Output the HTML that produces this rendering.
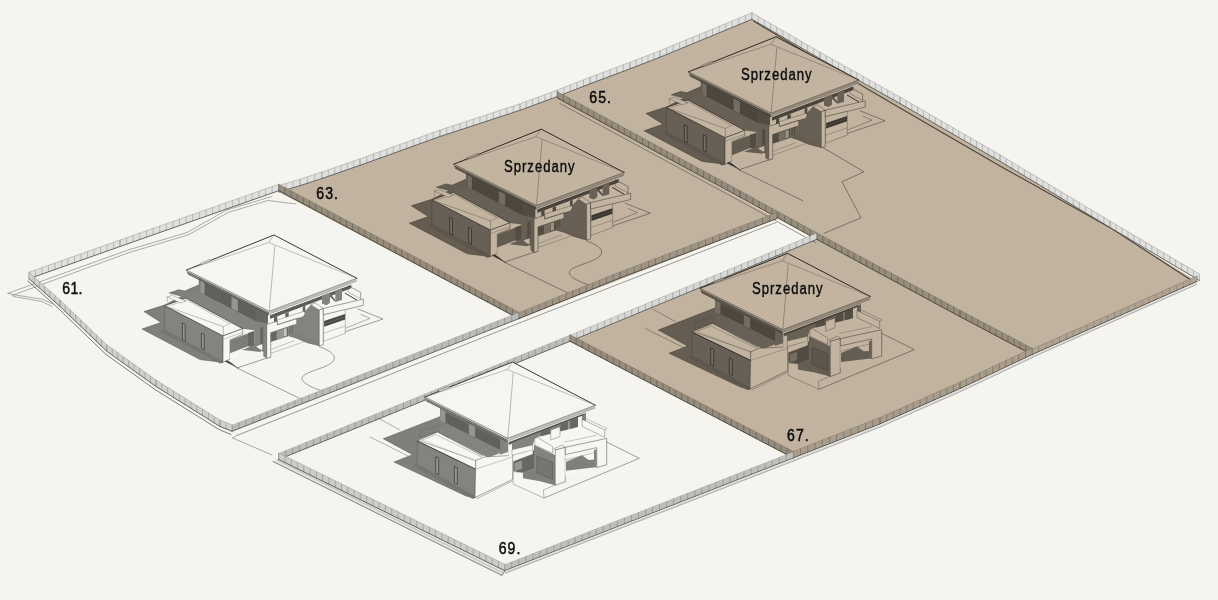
<!DOCTYPE html>
<html lang="pl"><head><meta charset="utf-8"><title>Plan osiedla</title>
<style>
html,body{margin:0;padding:0;background:#f5f4ef;}
body{width:1218px;height:600px;overflow:hidden;}
svg{display:block;}
text{font-family:"Liberation Sans",sans-serif;fill:#0c0c0c;}
</style></head><body>
<svg width="1218" height="600" viewBox="0 0 1218 600">
<rect width="1218" height="600" fill="#f5f4ef"/>
<polygon points="29.0,278.7 120.0,246.5 278.7,190.7 518.7,318.7 232.0,431.3 220.0,426.5 156.0,386.5 106.7,351.2 60.0,306.5" fill="#f5f4ef"/>
<polygon points="278.7,459.5 570.0,341.3 793.3,458.0 504.7,570.7" fill="#f5f4ef"/>
<polygon points="232.0,431.3 518.7,318.7 776.7,218.7 816.7,239.3 570.0,341.3 278.7,459.5 272.0,455.5 232.7,438.0" fill="#f5f4ef"/>
<polygon points="278.7,192.0 300.0,185.7 322.0,178.5 360.0,165.3 440.0,136.5 520.0,110.3 557.3,96.5 776.7,218.7 518.7,318.7" fill="#c1b39f"/>
<polygon points="557.3,96.5 590.0,83.8 630.0,68.8 660.0,57.2 752.0,19.3 820.0,58.7 900.0,103.5 1000.0,161.3 1110.0,227.5 1197.0,281.5 1032.0,354.7 960.0,316.7 816.7,239.3 740.0,197.3" fill="#c1b39f"/>
<polygon points="570.0,341.3 816.7,239.3 1032.0,354.7 960.0,388.7 880.0,424.0 793.3,458.0" fill="#c1b39f"/>
<polyline points="237.3,435.3 518.0,323.5 776.0,222.5" fill="none" stroke="#5a5a58" stroke-width="0.6" stroke-linejoin="round" stroke-linecap="round"/>
<polyline points="232.7,438.0 272.0,455.0" fill="none" stroke="#5a5a58" stroke-width="0.5" stroke-linejoin="round" stroke-linecap="round"/>
<polyline points="232.7,438.0 237.3,435.3" fill="none" stroke="#5a5a58" stroke-width="0.5" stroke-linejoin="round" stroke-linecap="round"/>
<polyline points="8.0,293.3 128.0,250.0 186.7,232.7 226.7,210.0 272.0,196.5" fill="none" stroke="#5f5f5d" stroke-width="0.5" stroke-linejoin="round" stroke-linecap="round"/>
<polyline points="12.0,295.5 129.0,252.6 188.0,235.0 228.0,212.5 268.0,200.5 296.0,204.0" fill="none" stroke="#5f5f5d" stroke-width="0.5" stroke-linejoin="round" stroke-linecap="round"/>
<polyline points="8.0,293.3 13.3,294.7 42.7,299.3 53.3,304.0" fill="none" stroke="#5f5f5d" stroke-width="0.5" stroke-linejoin="round" stroke-linecap="round"/>
<polyline points="13.3,296.5 42.0,301.5 52.0,306.5" fill="none" stroke="#5f5f5d" stroke-width="0.5" stroke-linejoin="round" stroke-linecap="round"/>
<polyline points="28.0,281.0 59.0,309.0 105.5,354.0 155.0,389.5 219.0,429.5 231.0,434.5" fill="none" stroke="#464644" stroke-width="0.7" stroke-linejoin="round" stroke-linecap="round"/>
<polygon points="278.7,459.5 504.7,570.7 502.0,575.5 273.0,461.5" fill="#e4e3df"/>
<polyline points="273.0,461.5 502.0,575.5 504.7,571.0" fill="none" stroke="#50504e" stroke-width="0.7" stroke-linejoin="round" stroke-linecap="round"/>
<polyline points="276.0,459.5 503.0,573.0" fill="none" stroke="#828280" stroke-width="0.4" stroke-linejoin="round" stroke-linecap="round"/>
<polyline points="753.5,21.0 830.0,67.0 900.0,108.0 1000.0,166.0 1112.0,228.7 1194.0,282.0" fill="none" stroke="#4c463d" stroke-width="1.1" stroke-linejoin="round" stroke-linecap="round"/>
<polyline points="560.0,103.5 740.0,201.0 816.0,243.0" fill="none" stroke="#575047" stroke-width="0.6" stroke-linejoin="round" stroke-linecap="round"/>
<polygon points="29.0,278.7 120.0,246.5 278.7,190.7 278.7,184.2 120.0,240.0 29.0,272.2" fill="#e0e0de"/>
<path d="M29.0 278.7v-6.5M35.5 276.4v-6.5M42.0 274.1v-6.5M48.5 271.8v-6.5M55.0 269.5v-6.5M61.5 267.2v-6.5M68.0 264.9v-6.5M74.5 262.6v-6.5M81.0 260.3v-6.5M87.5 258.0v-6.5M94.0 255.7v-6.5M100.5 253.4v-6.5M107.0 251.1v-6.5M113.5 248.8v-6.5M120.0 246.5v-6.5M120.0 246.5v-6.5M126.6 244.2v-6.5M133.2 241.8v-6.5M139.8 239.5v-6.5M146.4 237.2v-6.5M153.1 234.9v-6.5M159.7 232.6v-6.5M166.3 230.2v-6.5M172.9 227.9v-6.5M179.5 225.6v-6.5M186.1 223.2v-6.5M192.7 220.9v-6.5M199.3 218.6v-6.5M206.0 216.3v-6.5M212.6 213.9v-6.5M219.2 211.6v-6.5M225.8 209.3v-6.5M232.4 207.0v-6.5M239.0 204.6v-6.5M245.6 202.3v-6.5M252.2 200.0v-6.5M258.9 197.7v-6.5M265.5 195.3v-6.5M272.1 193.0v-6.5M278.7 190.7v-6.5" stroke="#8c8c8a" stroke-width="0.5" fill="none"/>
<polyline points="29.0,272.2 120.0,240.0 278.7,184.2" fill="none" stroke="#969694" stroke-width="0.5" stroke-linejoin="round" stroke-linecap="round"/>
<polyline points="29.0,278.7 120.0,246.5 278.7,190.7" fill="none" stroke="#464644" stroke-width="0.8" stroke-linejoin="round" stroke-linecap="round"/>
<polygon points="278.7,192.0 300.0,185.7 322.0,178.5 360.0,165.3 440.0,136.5 520.0,110.3 557.3,96.5 590.0,83.8 630.0,68.8 660.0,57.2 752.0,19.3 752.0,12.8 660.0,50.7 630.0,62.2 590.0,77.2 557.3,90.0 520.0,103.8 440.0,130.0 360.0,158.8 322.0,172.0 300.0,179.2 278.7,185.5" fill="#e0e0de"/>
<path d="M278.7 192.0v-6.5M285.8 189.9v-6.5M292.9 187.8v-6.5M300.0 185.7v-6.5M300.0 185.7v-6.5M307.3 183.3v-6.5M314.7 180.9v-6.5M322.0 178.5v-6.5M322.0 178.5v-6.5M328.3 176.3v-6.5M334.7 174.1v-6.5M341.0 171.9v-6.5M347.3 169.7v-6.5M353.7 167.5v-6.5M360.0 165.3v-6.5M360.0 165.3v-6.5M366.7 162.9v-6.5M373.3 160.5v-6.5M380.0 158.1v-6.5M386.7 155.7v-6.5M393.3 153.3v-6.5M400.0 150.9v-6.5M406.7 148.5v-6.5M413.3 146.1v-6.5M420.0 143.7v-6.5M426.7 141.3v-6.5M433.3 138.9v-6.5M440.0 136.5v-6.5M440.0 136.5v-6.5M446.7 134.3v-6.5M453.3 132.1v-6.5M460.0 129.9v-6.5M466.7 127.8v-6.5M473.3 125.6v-6.5M480.0 123.4v-6.5M486.7 121.2v-6.5M493.3 119.0v-6.5M500.0 116.8v-6.5M506.7 114.7v-6.5M513.3 112.5v-6.5M520.0 110.3v-6.5M520.0 110.3v-6.5M526.2 108.0v-6.5M532.4 105.7v-6.5M538.6 103.4v-6.5M544.9 101.1v-6.5M551.1 98.8v-6.5M557.3 96.5v-6.5M557.3 96.5v-6.5M563.8 94.0v-6.5M570.4 91.4v-6.5M576.9 88.8v-6.5M583.5 86.3v-6.5M590.0 83.8v-6.5M590.0 83.8v-6.5M596.7 81.2v-6.5M603.3 78.8v-6.5M610.0 76.2v-6.5M616.7 73.8v-6.5M623.3 71.2v-6.5M630.0 68.8v-6.5M630.0 68.8v-6.5M636.0 66.4v-6.5M642.0 64.1v-6.5M648.0 61.8v-6.5M654.0 59.5v-6.5M660.0 57.2v-6.5M660.0 57.2v-6.5M666.6 54.5v-6.5M673.1 51.8v-6.5M679.7 49.1v-6.5M686.3 46.4v-6.5M692.9 43.7v-6.5M699.4 41.0v-6.5M706.0 38.2v-6.5M712.6 35.5v-6.5M719.1 32.8v-6.5M725.7 30.1v-6.5M732.3 27.4v-6.5M738.9 24.7v-6.5M745.4 22.0v-6.5M752.0 19.3v-6.5" stroke="#8c8c8a" stroke-width="0.5" fill="none"/>
<polyline points="278.7,185.5 300.0,179.2 322.0,172.0 360.0,158.8 440.0,130.0 520.0,103.8 557.3,90.0 590.0,77.2 630.0,62.2 660.0,50.7 752.0,12.8" fill="none" stroke="#969694" stroke-width="0.5" stroke-linejoin="round" stroke-linecap="round"/>
<polyline points="278.7,192.0 300.0,185.7 322.0,178.5 360.0,165.3 440.0,136.5 520.0,110.3 557.3,96.5 590.0,83.8 630.0,68.8 660.0,57.2 752.0,19.3" fill="none" stroke="#464644" stroke-width="0.8" stroke-linejoin="round" stroke-linecap="round"/>
<polygon points="752.0,19.3 820.0,58.7 900.0,103.5 1000.0,161.3 1110.0,227.5 1199.5,280.5 1199.5,274.0 1110.0,221.0 1000.0,154.8 900.0,97.0 820.0,52.2 752.0,12.8" fill="#e0e0de"/>
<path d="M752.0 19.3v-6.5M758.2 22.9v-6.5M764.4 26.5v-6.5M770.5 30.0v-6.5M776.7 33.6v-6.5M782.9 37.2v-6.5M789.1 40.8v-6.5M795.3 44.4v-6.5M801.5 48.0v-6.5M807.6 51.5v-6.5M813.8 55.1v-6.5M820.0 58.7v-6.5M820.0 58.7v-6.5M826.2 62.1v-6.5M832.3 65.6v-6.5M838.5 69.0v-6.5M844.6 72.5v-6.5M850.8 75.9v-6.5M856.9 79.4v-6.5M863.1 82.8v-6.5M869.2 86.3v-6.5M875.4 89.7v-6.5M881.5 93.2v-6.5M887.7 96.6v-6.5M893.8 100.1v-6.5M900.0 103.5v-6.5M900.0 103.5v-6.5M905.9 106.9v-6.5M911.8 110.3v-6.5M917.6 113.7v-6.5M923.5 117.1v-6.5M929.4 120.5v-6.5M935.3 123.9v-6.5M941.2 127.3v-6.5M947.1 130.7v-6.5M952.9 134.1v-6.5M958.8 137.5v-6.5M964.7 140.9v-6.5M970.6 144.3v-6.5M976.5 147.7v-6.5M982.4 151.1v-6.5M988.2 154.5v-6.5M994.1 157.9v-6.5M1000.0 161.3v-6.5M1000.0 161.3v-6.5M1006.1 165.0v-6.5M1012.2 168.7v-6.5M1018.3 172.3v-6.5M1024.4 176.0v-6.5M1030.6 179.7v-6.5M1036.7 183.4v-6.5M1042.8 187.0v-6.5M1048.9 190.7v-6.5M1055.0 194.4v-6.5M1061.1 198.1v-6.5M1067.2 201.8v-6.5M1073.3 205.4v-6.5M1079.4 209.1v-6.5M1085.6 212.8v-6.5M1091.7 216.5v-6.5M1097.8 220.1v-6.5M1103.9 223.8v-6.5M1110.0 227.5v-6.5M1110.0 227.5v-6.5M1116.0 231.0v-6.5M1121.9 234.6v-6.5M1127.9 238.1v-6.5M1133.9 241.6v-6.5M1139.8 245.2v-6.5M1145.8 248.7v-6.5M1151.8 252.2v-6.5M1157.7 255.8v-6.5M1163.7 259.3v-6.5M1169.7 262.8v-6.5M1175.6 266.4v-6.5M1181.6 269.9v-6.5M1187.6 273.4v-6.5M1193.5 277.0v-6.5M1199.5 280.5v-6.5" stroke="#8c8c8a" stroke-width="0.5" fill="none"/>
<polyline points="752.0,12.8 820.0,52.2 900.0,97.0 1000.0,154.8 1110.0,221.0 1199.5,274.0" fill="none" stroke="#969694" stroke-width="0.5" stroke-linejoin="round" stroke-linecap="round"/>
<polyline points="752.0,19.3 820.0,58.7 900.0,103.5 1000.0,161.3 1110.0,227.5 1199.5,280.5" fill="none" stroke="#464644" stroke-width="0.8" stroke-linejoin="round" stroke-linecap="round"/>
<polyline points="323.6,339.0 383.0,319.0 358.0,309.0" fill="none" stroke="#464644" stroke-width="0.5" stroke-linejoin="round" stroke-linecap="round"/>
<polyline points="330.0,334.4 370.0,318.4 361.0,314.4" fill="none" stroke="#464644" stroke-width="0.4" stroke-linejoin="round" stroke-linecap="round"/>
<polyline points="237.0,368.0 301.0,399.0" fill="none" stroke="#464644" stroke-width="0.5" stroke-linejoin="round" stroke-linecap="round"/>
<polyline points="230.0,362.0 237.0,368.0 270.0,357.0" fill="none" stroke="#464644" stroke-width="0.5" stroke-linejoin="round" stroke-linecap="round"/>
<polyline points="271.3,349.3 294.0,340.7" fill="none" stroke="#787876" stroke-width="0.4" stroke-linejoin="round" stroke-linecap="round"/>
<polyline points="271.3,353.1 303.3,342.0" fill="none" stroke="#787876" stroke-width="0.4" stroke-linejoin="round" stroke-linecap="round"/>
<path d="M319.0 346.5 C 340.0 354.0 338.0 362.0 322.0 367.7 S 299.0 376.0 303.0 381.0 Q 307.0 386.0 322.0 391.0" fill="none" stroke="#464644" stroke-width="0.5" stroke-linejoin="round" stroke-linecap="round"/>
<polygon points="169.3,293.0 178.7,289.7 184.7,291.0 198.7,285.0 230.0,330.0 223.0,362.4 200.0,359.6 142.0,329.0 161.0,322.4 144.0,311.6 164.7,305.0 182.0,296.3" fill="#807f7b" stroke="#4b4b49" stroke-width="0.5" stroke-linejoin="round"/>
<polygon points="310.7,304.7 319.3,310.0 319.3,346.0 307.3,342.9 296.7,338.4 288.7,336.0 288.7,326.7 296.7,324.0 296.7,318.0 303.3,316.7 304.9,313.3 304.7,311.3" fill="#84837f"/>
<polygon points="288.7,336.0 296.7,333.3 308.7,338.7 319.3,342.7 319.3,346.0 307.3,342.9 296.7,338.4" fill="#807f7b"/>
<polygon points="198.7,278.3 267.0,315.5 267.0,332.0 242.7,328.7 186.0,298.1 198.7,293.7" fill="#84837f"/>
<polygon points="204.7,282.1 268.0,313.0 268.0,323.7 255.3,321.0 204.7,295.0" fill="#686764"/>
<polyline points="204.9,284.6 255.3,310.2" fill="none" stroke="#484846" stroke-width="0.5" stroke-linejoin="round" stroke-linecap="round"/>
<polyline points="204.9,286.9 255.3,312.5" fill="none" stroke="#484846" stroke-width="0.5" stroke-linejoin="round" stroke-linecap="round"/>
<polyline points="204.9,289.1 255.3,314.7" fill="none" stroke="#484846" stroke-width="0.5" stroke-linejoin="round" stroke-linecap="round"/>
<polyline points="204.9,291.4 255.3,317.0" fill="none" stroke="#484846" stroke-width="0.5" stroke-linejoin="round" stroke-linecap="round"/>
<polyline points="204.9,293.7 255.3,319.3" fill="none" stroke="#484846" stroke-width="0.5" stroke-linejoin="round" stroke-linecap="round"/>
<polygon points="231.3,295.9 238.0,299.4 238.0,311.9 231.3,308.7" fill="#969591" stroke="#555552" stroke-width="0.3" stroke-linejoin="round"/>
<polygon points="200.0,279.4 204.7,281.8 204.7,295.0 200.0,292.7" fill="#969591" stroke="#555552" stroke-width="0.3" stroke-linejoin="round"/>
<polygon points="164.4,306.0 223.0,335.0 223.0,362.4 164.4,331.0" fill="#84837f" stroke="#50504e" stroke-width="0.4" stroke-linejoin="round"/>
<polygon points="161.0,330.6 164.4,329.6 223.0,361.0 223.0,362.8 220.0,363.6 161.0,332.0" fill="#767572"/>
<polygon points="182.4,323.0 185.2,324.4 185.2,341.0 182.4,339.6" fill="#969591" stroke="#323230" stroke-width="0.7" stroke-linejoin="round"/>
<polygon points="201.4,333.0 204.2,334.4 204.2,350.0 201.4,348.6" fill="#969591" stroke="#323230" stroke-width="0.7" stroke-linejoin="round"/>
<polygon points="164.7,305.7 186.0,298.1 242.7,328.7 223.1,335.9" fill="#f7f6f2" stroke="#373735" stroke-width="0.7" stroke-linejoin="round"/>
<polyline points="170.0,305.6 186.5,300.0 229.0,323.3" fill="none" stroke="#787876" stroke-width="0.4" stroke-linejoin="round" stroke-linecap="round"/>
<polyline points="165.3,305.9 223.3,326.7 223.3,336.0" fill="none" stroke="#7d7d7a" stroke-width="0.5" stroke-linejoin="round" stroke-linecap="round"/>
<polyline points="223.3,326.7 231.0,323.0" fill="none" stroke="#7d7d7a" stroke-width="0.4" stroke-linejoin="round" stroke-linecap="round"/>
<polygon points="167.3,297.0 172.0,295.4 186.0,301.0 180.9,303.0" fill="#f7f6f2" stroke="#6e6e6c" stroke-width="0.4" stroke-linejoin="round"/>
<polyline points="167.3,297.0 167.3,301.7" fill="none" stroke="#6e6e6c" stroke-width="0.4" stroke-linejoin="round" stroke-linecap="round"/>
<polygon points="223.1,335.9 242.7,328.7 242.7,334.3 230.0,340.0 230.0,359.0 223.0,362.4" fill="#f7f6f2" stroke="#50504e" stroke-width="0.5" stroke-linejoin="round"/>
<polyline points="223.1,339.4 242.0,332.7" fill="none" stroke="#787876" stroke-width="0.4" stroke-linejoin="round" stroke-linecap="round"/>
<polygon points="230.0,340.0 254.4,331.0 254.4,344.0 230.0,353.6" fill="#84837f"/>
<polyline points="230.4,342.2 248.0,335.6" fill="none" stroke="#5f5f5c" stroke-width="0.4" stroke-linejoin="round" stroke-linecap="round"/>
<polyline points="230.4,344.4 248.0,337.8" fill="none" stroke="#5f5f5c" stroke-width="0.4" stroke-linejoin="round" stroke-linecap="round"/>
<polyline points="230.4,346.6 248.0,340.0" fill="none" stroke="#5f5f5c" stroke-width="0.4" stroke-linejoin="round" stroke-linecap="round"/>
<polyline points="230.4,348.8 248.0,342.2" fill="none" stroke="#5f5f5c" stroke-width="0.4" stroke-linejoin="round" stroke-linecap="round"/>
<polyline points="230.4,351.0 248.0,344.4" fill="none" stroke="#5f5f5c" stroke-width="0.4" stroke-linejoin="round" stroke-linecap="round"/>
<polygon points="230.0,353.6 254.4,344.0 260.0,347.0 230.0,359.0" fill="#f7f6f2"/>
<polygon points="248.0,333.0 254.4,331.0 254.4,344.4 262.0,348.4 262.0,351.0 248.0,346.0" fill="#686764"/>
<polygon points="254.4,329.6 267.2,325.2 267.2,354.4 254.4,345.2" fill="#84837f"/>
<polygon points="260.0,328.0 267.2,325.6 267.2,354.4 260.0,349.2" fill="#686764"/>
<polygon points="242.0,350.0 255.0,344.4 263.0,350.0 260.0,352.0" fill="#807f7b"/>
<polygon points="256.0,346.4 262.4,344.0 262.4,350.0 260.0,349.2" fill="#f7f6f2"/>
<polygon points="224.5,361.2 227.5,360.2 239.5,369.0" fill="#464644"/>
<polygon points="270.0,314.9 351.3,284.7 351.3,294.7 330.0,300.0 315.3,302.9 310.7,304.7 304.7,311.3 277.3,320.0 270.0,324.0" fill="#f7f6f2"/>
<polygon points="270.0,314.9 351.3,284.7 351.3,288.3 270.0,318.9" fill="#5c5c59"/>
<polygon points="274.0,317.3 277.3,316.1 277.3,323.5 274.0,324.7" fill="#62625f"/>
<polygon points="285.3,313.3 288.7,312.1 288.7,319.5 285.3,320.7" fill="#62625f"/>
<polygon points="302.7,306.7 305.3,305.5 305.3,313.7 302.7,314.9" fill="#62625f"/>
<polygon points="277.3,320.0 304.0,311.3 305.2,313.3 303.3,316.8 277.3,324.8" fill="#f7f6f2" stroke="#5a5a58" stroke-width="0.4" stroke-linejoin="round"/>
<polygon points="263.3,326.0 266.7,324.7 266.7,358.4 263.3,356.3" fill="#84837f"/>
<polygon points="266.7,324.7 277.3,321.1 277.3,324.8 296.7,318.4 296.7,324.0 270.7,332.7 270.7,357.1 266.7,358.4" fill="#f7f6f2" stroke="#464644" stroke-width="0.5" stroke-linejoin="round"/>
<polyline points="277.3,324.8 303.3,316.8" fill="none" stroke="#6e6e6c" stroke-width="0.4" stroke-linejoin="round" stroke-linecap="round"/>
<polygon points="270.7,332.7 288.7,326.7 288.7,336.0 270.7,342.0" fill="#686764"/>
<polygon points="276.7,331.2 283.3,328.9 283.3,337.3 276.7,339.7" fill="#969591"/>
<polygon points="283.6,329.1 286.7,328.0 286.7,335.7 283.6,336.8" fill="#c8c7c3"/>
<polyline points="290.0,326.0 290.0,333.3" fill="none" stroke="#464644" stroke-width="0.5" stroke-linejoin="round" stroke-linecap="round"/>
<polyline points="292.4,325.3 292.4,332.7" fill="none" stroke="#464644" stroke-width="0.5" stroke-linejoin="round" stroke-linecap="round"/>
<polygon points="315.3,302.9 351.3,294.0 363.3,299.1 323.3,308.4" fill="#f7f6f2"/>
<polygon points="322.0,294.4 330.0,292.0 330.0,302.7 326.7,305.3 322.0,303.7" fill="#84837f"/>
<polygon points="335.3,290.4 342.0,288.0 342.0,300.0 335.3,302.0" fill="#84837f"/>
<polygon points="330.0,293.3 335.3,300.0 335.3,302.0 330.0,296.7" fill="#686764"/>
<polygon points="310.7,304.7 315.3,302.9 323.3,308.4 319.3,310.0" fill="#f7f6f2" stroke="#464644" stroke-width="0.4" stroke-linejoin="round"/>
<polyline points="348.0,285.6 360.7,292.3 360.7,298.7" fill="none" stroke="#464644" stroke-width="0.5" stroke-linejoin="round" stroke-linecap="round"/>
<polyline points="348.0,285.6 348.0,292.0 360.7,298.7" fill="none" stroke="#5a5a58" stroke-width="0.4" stroke-linejoin="round" stroke-linecap="round"/>
<polyline points="345.3,293.3 356.7,300.0" fill="none" stroke="#282828" stroke-width="0.9" stroke-linejoin="round" stroke-linecap="round"/>
<polygon points="319.3,310.0 323.3,308.4 323.3,344.7 319.3,346.0" fill="#f7f6f2" stroke="#464644" stroke-width="0.5" stroke-linejoin="round"/>
<polygon points="323.3,308.4 363.3,299.1 363.3,305.3 323.3,314.9" fill="#f7f6f2" stroke="#464644" stroke-width="0.5" stroke-linejoin="round"/>
<polygon points="323.6,314.9 345.3,309.6 345.3,333.3 323.6,341.3" fill="#f7f6f2" stroke="#646462" stroke-width="0.4" stroke-linejoin="round"/>
<polygon points="324.1,321.1 345.1,314.1 345.1,319.5 324.1,326.7" fill="#484846"/>
<polyline points="324.1,324.0 345.1,316.9" fill="none" stroke="#969694" stroke-width="0.4" stroke-linejoin="round" stroke-linecap="round"/>
<polyline points="323.6,333.3 345.3,326.0" fill="none" stroke="#787876" stroke-width="0.4" stroke-linejoin="round" stroke-linecap="round"/>
<polygon points="187.3,273.0 269.2,314.2 269.2,315.6 188.1,274.6" fill="#585855"/>
<polygon points="269.2,314.2 356.5,281.2 356.0,282.4 269.2,315.6" fill="#f7f6f2"/>
<polygon points="186.5,270.0 269.2,311.2 269.2,314.2 187.3,273.0" fill="#70706d"/>
<polygon points="269.2,311.2 356.8,278.2 356.5,281.2 269.2,314.2" fill="#c0c0bd"/>
<polyline points="269.2,314.2 356.5,281.2" fill="none" stroke="#787876" stroke-width="0.4" stroke-linejoin="round" stroke-linecap="round"/>
<polygon points="186.5,270.0 274.0,235.0 356.8,278.2 269.2,311.2" fill="#f6f5f1"/>
<polyline points="187.1,270.8 269.2,312.1" fill="none" stroke="#fafaf8" stroke-width="0.8" stroke-linejoin="round" stroke-linecap="round"/>
<polyline points="186.5,270.0 269.2,311.2 356.8,278.2" fill="none" stroke="#4b4b49" stroke-width="0.5" stroke-linejoin="round" stroke-linecap="round"/>
<polyline points="186.5,270.0 274.0,235.0 356.8,278.2" fill="none" stroke="#2d2d2b" stroke-width="0.95" stroke-linejoin="round" stroke-linecap="round"/>
<polyline points="274.8,246.2 269.2,311.2" fill="none" stroke="#787875" stroke-width="0.5" stroke-linejoin="round" stroke-linecap="round"/>
<polyline points="186.5,270.0 268.8,242.5 356.8,278.2" fill="none" stroke="#787875" stroke-width="0.45" stroke-linejoin="round" stroke-linecap="round"/>
<polyline points="268.8,242.5 274.0,235.0" fill="none" stroke="#787875" stroke-width="0.45" stroke-linejoin="round" stroke-linecap="round"/>
<polygon points="200.0,263.4 210.0,259.4 211.0,260.8 201.0,264.8" fill="#e1e0dc" stroke="#5a5a58" stroke-width="0.4" stroke-linejoin="round"/>
<polyline points="590.9,233.2 650.3,213.2 625.3,203.2" fill="none" stroke="#37332d" stroke-width="0.5" stroke-linejoin="round" stroke-linecap="round"/>
<polyline points="597.3,228.6 637.3,212.6 628.3,208.6" fill="none" stroke="#37332d" stroke-width="0.4" stroke-linejoin="round" stroke-linecap="round"/>
<polyline points="504.3,262.2 568.3,293.2" fill="none" stroke="#37332d" stroke-width="0.5" stroke-linejoin="round" stroke-linecap="round"/>
<polyline points="497.3,256.2 504.3,262.2 537.3,251.2" fill="none" stroke="#37332d" stroke-width="0.5" stroke-linejoin="round" stroke-linecap="round"/>
<polyline points="538.6,243.5 561.3,234.9" fill="none" stroke="#5f584f" stroke-width="0.4" stroke-linejoin="round" stroke-linecap="round"/>
<polyline points="538.6,247.3 570.6,236.2" fill="none" stroke="#5f584f" stroke-width="0.4" stroke-linejoin="round" stroke-linecap="round"/>
<path d="M586.3 240.7 C 607.3 248.2 605.3 256.2 589.3 261.9 S 566.3 270.2 570.3 275.2 Q 574.3 280.2 589.3 285.2" fill="none" stroke="#37332d" stroke-width="0.5" stroke-linejoin="round" stroke-linecap="round"/>
<polygon points="436.6,187.2 446.0,183.9 452.0,185.2 466.0,179.2 497.3,224.2 490.3,256.6 467.3,253.8 409.3,223.2 428.3,216.6 411.3,205.8 432.0,199.2 449.3,190.5" fill="#655d52" stroke="#3b3731" stroke-width="0.5" stroke-linejoin="round"/>
<polygon points="578.0,198.9 586.6,204.2 586.6,240.2 574.6,237.1 564.0,232.6 556.0,230.2 556.0,220.9 564.0,218.2 564.0,212.2 570.6,210.9 572.2,207.5 572.0,205.5" fill="#686054"/>
<polygon points="556.0,230.2 564.0,227.5 576.0,232.9 586.6,236.9 586.6,240.2 574.6,237.1 564.0,232.6" fill="#655d52"/>
<polygon points="466.0,172.5 534.3,209.7 534.3,226.2 510.0,222.9 453.3,192.3 466.0,187.9" fill="#686054"/>
<polygon points="472.0,176.3 535.3,207.2 535.3,217.9 522.6,215.2 472.0,189.2" fill="#524c43"/>
<polyline points="472.2,178.8 522.6,204.4" fill="none" stroke="#39352f" stroke-width="0.5" stroke-linejoin="round" stroke-linecap="round"/>
<polyline points="472.2,181.1 522.6,206.7" fill="none" stroke="#39352f" stroke-width="0.5" stroke-linejoin="round" stroke-linecap="round"/>
<polyline points="472.2,183.3 522.6,208.9" fill="none" stroke="#39352f" stroke-width="0.5" stroke-linejoin="round" stroke-linecap="round"/>
<polyline points="472.2,185.6 522.6,211.2" fill="none" stroke="#39352f" stroke-width="0.5" stroke-linejoin="round" stroke-linecap="round"/>
<polyline points="472.2,187.9 522.6,213.5" fill="none" stroke="#39352f" stroke-width="0.5" stroke-linejoin="round" stroke-linecap="round"/>
<polygon points="498.6,190.1 505.3,193.6 505.3,206.1 498.6,202.9" fill="#766d60" stroke="#433e37" stroke-width="0.3" stroke-linejoin="round"/>
<polygon points="467.3,173.6 472.0,176.0 472.0,189.2 467.3,186.9" fill="#766d60" stroke="#433e37" stroke-width="0.3" stroke-linejoin="round"/>
<polygon points="431.7,200.2 490.3,229.2 490.3,256.6 431.7,225.2" fill="#686054" stroke="#3f3b34" stroke-width="0.4" stroke-linejoin="round"/>
<polygon points="428.3,224.8 431.7,223.8 490.3,255.2 490.3,257.0 487.3,257.8 428.3,226.2" fill="#5d564c"/>
<polygon points="449.7,217.2 452.5,218.6 452.5,235.2 449.7,233.8" fill="#766d60" stroke="#272520" stroke-width="0.7" stroke-linejoin="round"/>
<polygon points="468.7,227.2 471.5,228.6 471.5,244.2 468.7,242.8" fill="#766d60" stroke="#272520" stroke-width="0.7" stroke-linejoin="round"/>
<polygon points="432.0,199.9 453.3,192.3 510.0,222.9 490.4,230.1" fill="#c3b4a1" stroke="#2b2823" stroke-width="0.7" stroke-linejoin="round"/>
<polyline points="437.3,199.8 453.8,194.2 496.3,217.5" fill="none" stroke="#5f584f" stroke-width="0.4" stroke-linejoin="round" stroke-linecap="round"/>
<polyline points="432.6,200.1 490.6,220.9 490.6,230.2" fill="none" stroke="#625c51" stroke-width="0.5" stroke-linejoin="round" stroke-linecap="round"/>
<polyline points="490.6,220.9 498.3,217.2" fill="none" stroke="#625c51" stroke-width="0.4" stroke-linejoin="round" stroke-linecap="round"/>
<polygon points="434.6,191.2 439.3,189.6 453.3,195.2 448.2,197.2" fill="#c3b4a1" stroke="#575148" stroke-width="0.4" stroke-linejoin="round"/>
<polyline points="434.6,191.2 434.6,195.9" fill="none" stroke="#575148" stroke-width="0.4" stroke-linejoin="round" stroke-linecap="round"/>
<polygon points="490.4,230.1 510.0,222.9 510.0,228.5 497.3,234.2 497.3,253.2 490.3,256.6" fill="#c3b4a1" stroke="#3f3b34" stroke-width="0.5" stroke-linejoin="round"/>
<polyline points="490.4,233.6 509.3,226.9" fill="none" stroke="#5f584f" stroke-width="0.4" stroke-linejoin="round" stroke-linecap="round"/>
<polygon points="497.3,234.2 521.7,225.2 521.7,238.2 497.3,247.8" fill="#686054"/>
<polyline points="497.7,236.4 515.3,229.8" fill="none" stroke="#4b463d" stroke-width="0.4" stroke-linejoin="round" stroke-linecap="round"/>
<polyline points="497.7,238.6 515.3,232.0" fill="none" stroke="#4b463d" stroke-width="0.4" stroke-linejoin="round" stroke-linecap="round"/>
<polyline points="497.7,240.8 515.3,234.2" fill="none" stroke="#4b463d" stroke-width="0.4" stroke-linejoin="round" stroke-linecap="round"/>
<polyline points="497.7,243.0 515.3,236.4" fill="none" stroke="#4b463d" stroke-width="0.4" stroke-linejoin="round" stroke-linecap="round"/>
<polyline points="497.7,245.2 515.3,238.6" fill="none" stroke="#4b463d" stroke-width="0.4" stroke-linejoin="round" stroke-linecap="round"/>
<polygon points="497.3,247.8 521.7,238.2 527.3,241.2 497.3,253.2" fill="#c3b4a1"/>
<polygon points="515.3,227.2 521.7,225.2 521.7,238.6 529.3,242.6 529.3,245.2 515.3,240.2" fill="#524c43"/>
<polygon points="521.7,223.8 534.5,219.4 534.5,248.6 521.7,239.4" fill="#686054"/>
<polygon points="527.3,222.2 534.5,219.8 534.5,248.6 527.3,243.4" fill="#524c43"/>
<polygon points="509.3,244.2 522.3,238.6 530.3,244.2 527.3,246.2" fill="#655d52"/>
<polygon points="523.3,240.6 529.7,238.2 529.7,244.2 527.3,243.4" fill="#c3b4a1"/>
<polygon points="491.8,255.4 494.8,254.4 506.8,263.2" fill="#37332d"/>
<polygon points="537.3,209.1 618.6,178.9 618.6,188.9 597.3,194.2 582.6,197.1 578.0,198.9 572.0,205.5 544.6,214.2 537.3,218.2" fill="#c3b4a1"/>
<polygon points="537.3,209.1 618.6,178.9 618.6,182.5 537.3,213.1" fill="#48433b"/>
<polygon points="541.3,211.5 544.6,210.3 544.6,217.7 541.3,218.9" fill="#4d483f"/>
<polygon points="552.6,207.5 556.0,206.3 556.0,213.7 552.6,214.9" fill="#4d483f"/>
<polygon points="570.0,200.9 572.6,199.7 572.6,207.9 570.0,209.1" fill="#4d483f"/>
<polygon points="544.6,214.2 571.3,205.5 572.5,207.5 570.6,211.0 544.6,219.0" fill="#c3b4a1" stroke="#47423b" stroke-width="0.4" stroke-linejoin="round"/>
<polygon points="530.6,220.2 534.0,218.9 534.0,252.6 530.6,250.5" fill="#686054"/>
<polygon points="534.0,218.9 544.6,215.3 544.6,219.0 564.0,212.6 564.0,218.2 538.0,226.9 538.0,251.3 534.0,252.6" fill="#c3b4a1" stroke="#37332d" stroke-width="0.5" stroke-linejoin="round"/>
<polyline points="544.6,219.0 570.6,211.0" fill="none" stroke="#575148" stroke-width="0.4" stroke-linejoin="round" stroke-linecap="round"/>
<polygon points="538.0,226.9 556.0,220.9 556.0,230.2 538.0,236.2" fill="#524c43"/>
<polygon points="544.0,225.4 550.6,223.1 550.6,231.5 544.0,233.9" fill="#766d60"/>
<polygon points="550.9,223.3 554.0,222.2 554.0,229.9 550.9,231.0" fill="#9e9282"/>
<polyline points="557.3,220.2 557.3,227.5" fill="none" stroke="#37332d" stroke-width="0.5" stroke-linejoin="round" stroke-linecap="round"/>
<polyline points="559.7,219.5 559.7,226.9" fill="none" stroke="#37332d" stroke-width="0.5" stroke-linejoin="round" stroke-linecap="round"/>
<polygon points="582.6,197.1 618.6,188.2 630.6,193.3 590.6,202.6" fill="#c3b4a1"/>
<polygon points="589.3,188.6 597.3,186.2 597.3,196.9 594.0,199.5 589.3,197.9" fill="#686054"/>
<polygon points="602.6,184.6 609.3,182.2 609.3,194.2 602.6,196.2" fill="#686054"/>
<polygon points="597.3,187.5 602.6,194.2 602.6,196.2 597.3,190.9" fill="#524c43"/>
<polygon points="578.0,198.9 582.6,197.1 590.6,202.6 586.6,204.2" fill="#c3b4a1" stroke="#37332d" stroke-width="0.4" stroke-linejoin="round"/>
<polyline points="615.3,179.8 628.0,186.5 628.0,192.9" fill="none" stroke="#37332d" stroke-width="0.5" stroke-linejoin="round" stroke-linecap="round"/>
<polyline points="615.3,179.8 615.3,186.2 628.0,192.9" fill="none" stroke="#47423b" stroke-width="0.4" stroke-linejoin="round" stroke-linecap="round"/>
<polyline points="612.6,187.5 624.0,194.2" fill="none" stroke="#201d1b" stroke-width="0.9" stroke-linejoin="round" stroke-linecap="round"/>
<polygon points="586.6,204.2 590.6,202.6 590.6,238.9 586.6,240.2" fill="#c3b4a1" stroke="#37332d" stroke-width="0.5" stroke-linejoin="round"/>
<polygon points="590.6,202.6 630.6,193.3 630.6,199.5 590.6,209.1" fill="#c3b4a1" stroke="#37332d" stroke-width="0.5" stroke-linejoin="round"/>
<polygon points="590.9,209.1 612.6,203.8 612.6,227.5 590.9,235.5" fill="#c3b4a1" stroke="#4f4941" stroke-width="0.4" stroke-linejoin="round"/>
<polygon points="591.4,215.3 612.4,208.3 612.4,213.7 591.4,220.9" fill="#39352f"/>
<polyline points="591.4,218.2 612.4,211.1" fill="none" stroke="#766e62" stroke-width="0.4" stroke-linejoin="round" stroke-linecap="round"/>
<polyline points="590.9,227.5 612.6,220.2" fill="none" stroke="#5f584f" stroke-width="0.4" stroke-linejoin="round" stroke-linecap="round"/>
<polygon points="454.6,167.2 536.5,208.4 536.5,209.8 455.4,168.8" fill="#454139"/>
<polygon points="536.5,208.4 623.8,175.4 623.3,176.6 536.5,209.8" fill="#c3b4a1"/>
<polygon points="453.8,164.2 536.5,205.4 536.5,208.4 454.6,167.2" fill="#585249"/>
<polygon points="536.5,205.4 624.1,172.4 623.8,175.4 536.5,208.4" fill="#978d7e"/>
<polyline points="536.5,208.4 623.8,175.4" fill="none" stroke="#5f584f" stroke-width="0.4" stroke-linejoin="round" stroke-linecap="round"/>
<polygon points="453.8,164.2 541.3,129.2 624.1,172.4 536.5,205.4" fill="#c2b4a0"/>
<polyline points="454.4,165.0 536.5,206.3" fill="none" stroke="#c5b7a5" stroke-width="0.8" stroke-linejoin="round" stroke-linecap="round"/>
<polyline points="453.8,164.2 536.5,205.4 624.1,172.4" fill="none" stroke="#3b3731" stroke-width="0.5" stroke-linejoin="round" stroke-linecap="round"/>
<polyline points="453.8,164.2 541.3,129.2 624.1,172.4" fill="none" stroke="#23211d" stroke-width="0.95" stroke-linejoin="round" stroke-linecap="round"/>
<polyline points="542.0,140.4 536.5,205.4" fill="none" stroke="#5f584e" stroke-width="0.5" stroke-linejoin="round" stroke-linecap="round"/>
<polyline points="453.8,164.2 536.0,136.7 624.1,172.4" fill="none" stroke="#5f584e" stroke-width="0.45" stroke-linejoin="round" stroke-linecap="round"/>
<polyline points="536.0,136.7 541.3,129.2" fill="none" stroke="#5f584e" stroke-width="0.45" stroke-linejoin="round" stroke-linecap="round"/>
<polygon points="467.3,157.6 477.3,153.6 478.3,155.0 468.3,159.0" fill="#b1a492" stroke="#47423b" stroke-width="0.4" stroke-linejoin="round"/>
<polyline points="825.6,140.8 885.0,120.8 860.0,110.8" fill="none" stroke="#37332d" stroke-width="0.5" stroke-linejoin="round" stroke-linecap="round"/>
<polyline points="832.0,136.2 872.0,120.2 863.0,116.2" fill="none" stroke="#37332d" stroke-width="0.4" stroke-linejoin="round" stroke-linecap="round"/>
<polyline points="739.0,169.8 803.0,200.8" fill="none" stroke="#37332d" stroke-width="0.5" stroke-linejoin="round" stroke-linecap="round"/>
<polyline points="732.0,163.8 739.0,169.8 772.0,158.8" fill="none" stroke="#37332d" stroke-width="0.5" stroke-linejoin="round" stroke-linecap="round"/>
<polyline points="773.3,151.1 796.0,142.5" fill="none" stroke="#5f584f" stroke-width="0.4" stroke-linejoin="round" stroke-linecap="round"/>
<polyline points="773.3,154.9 805.3,143.8" fill="none" stroke="#5f584f" stroke-width="0.4" stroke-linejoin="round" stroke-linecap="round"/>
<polyline points="822.0,147.0 864.0,171.8 842.0,181.8 861.0,217.8 824.0,233.3" fill="none" stroke="#37332d" stroke-width="0.5" stroke-linejoin="round" stroke-linecap="round"/>
<polygon points="671.3,94.8 680.7,91.5 686.7,92.8 700.7,86.8 732.0,131.8 725.0,164.2 702.0,161.4 644.0,130.8 663.0,124.2 646.0,113.4 666.7,106.8 684.0,98.1" fill="#655d52" stroke="#3b3731" stroke-width="0.5" stroke-linejoin="round"/>
<polygon points="812.7,106.5 821.3,111.8 821.3,147.8 809.3,144.7 798.7,140.2 790.7,137.8 790.7,128.5 798.7,125.8 798.7,119.8 805.3,118.5 806.9,115.1 806.7,113.1" fill="#686054"/>
<polygon points="790.7,137.8 798.7,135.1 810.7,140.5 821.3,144.5 821.3,147.8 809.3,144.7 798.7,140.2" fill="#655d52"/>
<polygon points="700.7,80.1 769.0,117.3 769.0,133.8 744.7,130.5 688.0,99.9 700.7,95.5" fill="#686054"/>
<polygon points="706.7,83.9 770.0,114.8 770.0,125.5 757.3,122.8 706.7,96.8" fill="#524c43"/>
<polyline points="706.9,86.4 757.3,112.0" fill="none" stroke="#39352f" stroke-width="0.5" stroke-linejoin="round" stroke-linecap="round"/>
<polyline points="706.9,88.7 757.3,114.3" fill="none" stroke="#39352f" stroke-width="0.5" stroke-linejoin="round" stroke-linecap="round"/>
<polyline points="706.9,90.9 757.3,116.5" fill="none" stroke="#39352f" stroke-width="0.5" stroke-linejoin="round" stroke-linecap="round"/>
<polyline points="706.9,93.2 757.3,118.8" fill="none" stroke="#39352f" stroke-width="0.5" stroke-linejoin="round" stroke-linecap="round"/>
<polyline points="706.9,95.5 757.3,121.1" fill="none" stroke="#39352f" stroke-width="0.5" stroke-linejoin="round" stroke-linecap="round"/>
<polygon points="733.3,97.7 740.0,101.2 740.0,113.7 733.3,110.5" fill="#766d60" stroke="#433e37" stroke-width="0.3" stroke-linejoin="round"/>
<polygon points="702.0,81.2 706.7,83.6 706.7,96.8 702.0,94.5" fill="#766d60" stroke="#433e37" stroke-width="0.3" stroke-linejoin="round"/>
<polygon points="666.4,107.8 725.0,136.8 725.0,164.2 666.4,132.8" fill="#686054" stroke="#3f3b34" stroke-width="0.4" stroke-linejoin="round"/>
<polygon points="663.0,132.4 666.4,131.4 725.0,162.8 725.0,164.6 722.0,165.4 663.0,133.8" fill="#5d564c"/>
<polygon points="684.4,124.8 687.2,126.2 687.2,142.8 684.4,141.4" fill="#766d60" stroke="#272520" stroke-width="0.7" stroke-linejoin="round"/>
<polygon points="703.4,134.8 706.2,136.2 706.2,151.8 703.4,150.4" fill="#766d60" stroke="#272520" stroke-width="0.7" stroke-linejoin="round"/>
<polygon points="666.7,107.5 688.0,99.9 744.7,130.5 725.1,137.7" fill="#c3b4a1" stroke="#2b2823" stroke-width="0.7" stroke-linejoin="round"/>
<polyline points="672.0,107.4 688.5,101.8 731.0,125.1" fill="none" stroke="#5f584f" stroke-width="0.4" stroke-linejoin="round" stroke-linecap="round"/>
<polyline points="667.3,107.7 725.3,128.5 725.3,137.8" fill="none" stroke="#625c51" stroke-width="0.5" stroke-linejoin="round" stroke-linecap="round"/>
<polyline points="725.3,128.5 733.0,124.8" fill="none" stroke="#625c51" stroke-width="0.4" stroke-linejoin="round" stroke-linecap="round"/>
<polygon points="669.3,98.8 674.0,97.2 688.0,102.8 682.9,104.8" fill="#c3b4a1" stroke="#575148" stroke-width="0.4" stroke-linejoin="round"/>
<polyline points="669.3,98.8 669.3,103.5" fill="none" stroke="#575148" stroke-width="0.4" stroke-linejoin="round" stroke-linecap="round"/>
<polygon points="725.1,137.7 744.7,130.5 744.7,136.1 732.0,141.8 732.0,160.8 725.0,164.2" fill="#c3b4a1" stroke="#3f3b34" stroke-width="0.5" stroke-linejoin="round"/>
<polyline points="725.1,141.2 744.0,134.5" fill="none" stroke="#5f584f" stroke-width="0.4" stroke-linejoin="round" stroke-linecap="round"/>
<polygon points="732.0,141.8 756.4,132.8 756.4,145.8 732.0,155.4" fill="#686054"/>
<polyline points="732.4,144.0 750.0,137.4" fill="none" stroke="#4b463d" stroke-width="0.4" stroke-linejoin="round" stroke-linecap="round"/>
<polyline points="732.4,146.2 750.0,139.6" fill="none" stroke="#4b463d" stroke-width="0.4" stroke-linejoin="round" stroke-linecap="round"/>
<polyline points="732.4,148.4 750.0,141.8" fill="none" stroke="#4b463d" stroke-width="0.4" stroke-linejoin="round" stroke-linecap="round"/>
<polyline points="732.4,150.6 750.0,144.0" fill="none" stroke="#4b463d" stroke-width="0.4" stroke-linejoin="round" stroke-linecap="round"/>
<polyline points="732.4,152.8 750.0,146.2" fill="none" stroke="#4b463d" stroke-width="0.4" stroke-linejoin="round" stroke-linecap="round"/>
<polygon points="732.0,155.4 756.4,145.8 762.0,148.8 732.0,160.8" fill="#c3b4a1"/>
<polygon points="750.0,134.8 756.4,132.8 756.4,146.2 764.0,150.2 764.0,152.8 750.0,147.8" fill="#524c43"/>
<polygon points="756.4,131.4 769.2,127.0 769.2,156.2 756.4,147.0" fill="#686054"/>
<polygon points="762.0,129.8 769.2,127.4 769.2,156.2 762.0,151.0" fill="#524c43"/>
<polygon points="744.0,151.8 757.0,146.2 765.0,151.8 762.0,153.8" fill="#655d52"/>
<polygon points="758.0,148.2 764.4,145.8 764.4,151.8 762.0,151.0" fill="#c3b4a1"/>
<polygon points="726.5,163.0 729.5,162.0 741.5,170.8" fill="#37332d"/>
<polygon points="772.0,116.7 853.3,86.5 853.3,96.5 832.0,101.8 817.3,104.7 812.7,106.5 806.7,113.1 779.3,121.8 772.0,125.8" fill="#c3b4a1"/>
<polygon points="772.0,116.7 853.3,86.5 853.3,90.1 772.0,120.7" fill="#48433b"/>
<polygon points="776.0,119.1 779.3,117.9 779.3,125.3 776.0,126.5" fill="#4d483f"/>
<polygon points="787.3,115.1 790.7,113.9 790.7,121.3 787.3,122.5" fill="#4d483f"/>
<polygon points="804.7,108.5 807.3,107.3 807.3,115.5 804.7,116.7" fill="#4d483f"/>
<polygon points="779.3,121.8 806.0,113.1 807.2,115.1 805.3,118.6 779.3,126.6" fill="#c3b4a1" stroke="#47423b" stroke-width="0.4" stroke-linejoin="round"/>
<polygon points="765.3,127.8 768.7,126.5 768.7,160.2 765.3,158.1" fill="#686054"/>
<polygon points="768.7,126.5 779.3,122.9 779.3,126.6 798.7,120.2 798.7,125.8 772.7,134.5 772.7,158.9 768.7,160.2" fill="#c3b4a1" stroke="#37332d" stroke-width="0.5" stroke-linejoin="round"/>
<polyline points="779.3,126.6 805.3,118.6" fill="none" stroke="#575148" stroke-width="0.4" stroke-linejoin="round" stroke-linecap="round"/>
<polygon points="772.7,134.5 790.7,128.5 790.7,137.8 772.7,143.8" fill="#524c43"/>
<polygon points="778.7,133.0 785.3,130.7 785.3,139.1 778.7,141.5" fill="#766d60"/>
<polygon points="785.6,130.9 788.7,129.8 788.7,137.5 785.6,138.6" fill="#9e9282"/>
<polyline points="792.0,127.8 792.0,135.1" fill="none" stroke="#37332d" stroke-width="0.5" stroke-linejoin="round" stroke-linecap="round"/>
<polyline points="794.4,127.1 794.4,134.5" fill="none" stroke="#37332d" stroke-width="0.5" stroke-linejoin="round" stroke-linecap="round"/>
<polygon points="817.3,104.7 853.3,95.8 865.3,100.9 825.3,110.2" fill="#c3b4a1"/>
<polygon points="824.0,96.2 832.0,93.8 832.0,104.5 828.7,107.1 824.0,105.5" fill="#686054"/>
<polygon points="837.3,92.2 844.0,89.8 844.0,101.8 837.3,103.8" fill="#686054"/>
<polygon points="832.0,95.1 837.3,101.8 837.3,103.8 832.0,98.5" fill="#524c43"/>
<polygon points="812.7,106.5 817.3,104.7 825.3,110.2 821.3,111.8" fill="#c3b4a1" stroke="#37332d" stroke-width="0.4" stroke-linejoin="round"/>
<polyline points="850.0,87.4 862.7,94.1 862.7,100.5" fill="none" stroke="#37332d" stroke-width="0.5" stroke-linejoin="round" stroke-linecap="round"/>
<polyline points="850.0,87.4 850.0,93.8 862.7,100.5" fill="none" stroke="#47423b" stroke-width="0.4" stroke-linejoin="round" stroke-linecap="round"/>
<polyline points="847.3,95.1 858.7,101.8" fill="none" stroke="#201d1b" stroke-width="0.9" stroke-linejoin="round" stroke-linecap="round"/>
<polygon points="821.3,111.8 825.3,110.2 825.3,146.5 821.3,147.8" fill="#c3b4a1" stroke="#37332d" stroke-width="0.5" stroke-linejoin="round"/>
<polygon points="825.3,110.2 865.3,100.9 865.3,107.1 825.3,116.7" fill="#c3b4a1" stroke="#37332d" stroke-width="0.5" stroke-linejoin="round"/>
<polygon points="825.6,116.7 847.3,111.4 847.3,135.1 825.6,143.1" fill="#c3b4a1" stroke="#4f4941" stroke-width="0.4" stroke-linejoin="round"/>
<polygon points="826.1,122.9 847.1,115.9 847.1,121.3 826.1,128.5" fill="#39352f"/>
<polyline points="826.1,125.8 847.1,118.7" fill="none" stroke="#766e62" stroke-width="0.4" stroke-linejoin="round" stroke-linecap="round"/>
<polyline points="825.6,135.1 847.3,127.8" fill="none" stroke="#5f584f" stroke-width="0.4" stroke-linejoin="round" stroke-linecap="round"/>
<polygon points="689.3,74.8 771.2,116.1 771.2,117.4 690.1,76.4" fill="#454139"/>
<polygon points="771.2,116.1 858.5,83.0 858.0,84.2 771.2,117.4" fill="#c3b4a1"/>
<polygon points="688.5,71.8 771.2,113.1 771.2,116.1 689.3,74.8" fill="#585249"/>
<polygon points="771.2,113.1 858.8,80.0 858.5,83.0 771.2,116.1" fill="#978d7e"/>
<polyline points="771.2,116.1 858.5,83.0" fill="none" stroke="#5f584f" stroke-width="0.4" stroke-linejoin="round" stroke-linecap="round"/>
<polygon points="688.5,71.8 776.0,36.8 858.8,80.0 771.2,113.1" fill="#c2b4a0"/>
<polyline points="689.1,72.6 771.2,113.9" fill="none" stroke="#c5b7a5" stroke-width="0.8" stroke-linejoin="round" stroke-linecap="round"/>
<polyline points="688.5,71.8 771.2,113.1 858.8,80.0" fill="none" stroke="#3b3731" stroke-width="0.5" stroke-linejoin="round" stroke-linecap="round"/>
<polyline points="688.5,71.8 776.0,36.8 858.8,80.0" fill="none" stroke="#23211d" stroke-width="0.95" stroke-linejoin="round" stroke-linecap="round"/>
<polyline points="776.8,48.1 771.2,113.1" fill="none" stroke="#5f584e" stroke-width="0.5" stroke-linejoin="round" stroke-linecap="round"/>
<polyline points="688.5,71.8 770.8,44.3 858.8,80.0" fill="none" stroke="#5f584e" stroke-width="0.45" stroke-linejoin="round" stroke-linecap="round"/>
<polyline points="770.8,44.3 776.0,36.8" fill="none" stroke="#5f584e" stroke-width="0.45" stroke-linejoin="round" stroke-linecap="round"/>
<polygon points="702.0,65.2 712.0,61.2 713.0,62.6 703.0,66.6" fill="#b1a492" stroke="#47423b" stroke-width="0.4" stroke-linejoin="round"/>
<polygon points="278.7,190.7 518.7,318.7 518.7,312.2 278.7,184.2" fill="#978d7d"/>
<path d="M278.7 190.7v-6.5M284.9 194.0v-6.5M291.0 197.3v-6.5M297.2 200.5v-6.5M303.3 203.8v-6.5M309.5 207.1v-6.5M315.6 210.4v-6.5M321.8 213.7v-6.5M327.9 217.0v-6.5M334.1 220.2v-6.5M340.2 223.5v-6.5M346.4 226.8v-6.5M352.5 230.1v-6.5M358.7 233.4v-6.5M364.9 236.6v-6.5M371.0 239.9v-6.5M377.2 243.2v-6.5M383.3 246.5v-6.5M389.5 249.8v-6.5M395.6 253.1v-6.5M401.8 256.3v-6.5M407.9 259.6v-6.5M414.1 262.9v-6.5M420.2 266.2v-6.5M426.4 269.5v-6.5M432.5 272.8v-6.5M438.7 276.0v-6.5M444.9 279.3v-6.5M451.0 282.6v-6.5M457.2 285.9v-6.5M463.3 289.2v-6.5M469.5 292.4v-6.5M475.6 295.7v-6.5M481.8 299.0v-6.5M487.9 302.3v-6.5M494.1 305.6v-6.5M500.2 308.9v-6.5M506.4 312.1v-6.5M512.5 315.4v-6.5M518.7 318.7v-6.5" stroke="#534d44" stroke-width="0.5" fill="none"/>
<polyline points="278.7,184.2 518.7,312.2" fill="none" stroke="#766e62" stroke-width="0.5" stroke-linejoin="round" stroke-linecap="round"/>
<polyline points="278.7,190.7 518.7,318.7" fill="none" stroke="#37332d" stroke-width="0.8" stroke-linejoin="round" stroke-linecap="round"/>
<polygon points="557.3,98.0 740.0,197.3 816.7,239.3 960.0,316.7 1032.0,354.7 1032.0,348.2 960.0,310.2 816.7,232.8 740.0,190.8 557.3,91.5" fill="#978d7d"/>
<path d="M557.3 98.0v-6.5M563.4 101.3v-6.5M569.5 104.6v-6.5M575.6 107.9v-6.5M581.7 111.2v-6.5M587.8 114.5v-6.5M593.8 117.9v-6.5M599.9 121.2v-6.5M606.0 124.5v-6.5M612.1 127.8v-6.5M618.2 131.1v-6.5M624.3 134.4v-6.5M630.4 137.7v-6.5M636.5 141.0v-6.5M642.6 144.3v-6.5M648.6 147.7v-6.5M654.7 151.0v-6.5M660.8 154.3v-6.5M666.9 157.6v-6.5M673.0 160.9v-6.5M679.1 164.2v-6.5M685.2 167.5v-6.5M691.3 170.8v-6.5M697.4 174.1v-6.5M703.5 177.4v-6.5M709.5 180.8v-6.5M715.6 184.1v-6.5M721.7 187.4v-6.5M727.8 190.7v-6.5M733.9 194.0v-6.5M740.0 197.3v-6.5M740.0 197.3v-6.5M746.4 200.8v-6.5M752.8 204.3v-6.5M759.2 207.8v-6.5M765.6 211.3v-6.5M772.0 214.8v-6.5M778.4 218.3v-6.5M784.7 221.8v-6.5M791.1 225.3v-6.5M797.5 228.8v-6.5M803.9 232.3v-6.5M810.3 235.8v-6.5M816.7 239.3v-6.5M816.7 239.3v-6.5M822.9 242.7v-6.5M829.2 246.0v-6.5M835.4 249.4v-6.5M841.6 252.8v-6.5M847.9 256.1v-6.5M854.1 259.5v-6.5M860.3 262.9v-6.5M866.5 266.2v-6.5M872.8 269.6v-6.5M879.0 273.0v-6.5M885.2 276.3v-6.5M891.5 279.7v-6.5M897.7 283.0v-6.5M903.9 286.4v-6.5M910.2 289.8v-6.5M916.4 293.1v-6.5M922.6 296.5v-6.5M928.8 299.9v-6.5M935.1 303.2v-6.5M941.3 306.6v-6.5M947.5 310.0v-6.5M953.8 313.3v-6.5M960.0 316.7v-6.5M960.0 316.7v-6.5M966.0 319.9v-6.5M972.0 323.0v-6.5M978.0 326.2v-6.5M984.0 329.4v-6.5M990.0 332.5v-6.5M996.0 335.7v-6.5M1002.0 338.9v-6.5M1008.0 342.0v-6.5M1014.0 345.2v-6.5M1020.0 348.4v-6.5M1026.0 351.5v-6.5M1032.0 354.7v-6.5" stroke="#534d44" stroke-width="0.5" fill="none"/>
<polyline points="557.3,91.5 740.0,190.8 816.7,232.8 960.0,310.2 1032.0,348.2" fill="none" stroke="#766e62" stroke-width="0.5" stroke-linejoin="round" stroke-linecap="round"/>
<polyline points="557.3,98.0 740.0,197.3 816.7,239.3 960.0,316.7 1032.0,354.7" fill="none" stroke="#37332d" stroke-width="0.8" stroke-linejoin="round" stroke-linecap="round"/>
<polygon points="518.7,318.7 620.0,278.0 776.7,218.7 776.7,212.7 620.0,272.0 518.7,312.7" fill="#a59a8a"/>
<path d="M518.7 318.7v-6.0M525.5 316.0v-6.0M532.2 313.3v-6.0M539.0 310.6v-6.0M545.7 307.8v-6.0M552.5 305.1v-6.0M559.2 302.4v-6.0M566.0 299.7v-6.0M572.7 297.0v-6.0M579.5 294.3v-6.0M586.2 291.6v-6.0M593.0 288.9v-6.0M599.7 286.1v-6.0M606.5 283.4v-6.0M613.2 280.7v-6.0M620.0 278.0v-6.0M620.0 278.0v-6.0M627.1 275.3v-6.0M634.2 272.6v-6.0M641.4 269.9v-6.0M648.5 267.2v-6.0M655.6 264.5v-6.0M662.7 261.8v-6.0M669.9 259.1v-6.0M677.0 256.4v-6.0M684.1 253.7v-6.0M691.2 251.0v-6.0M698.4 248.3v-6.0M705.5 245.7v-6.0M712.6 243.0v-6.0M719.7 240.3v-6.0M726.8 237.6v-6.0M734.0 234.9v-6.0M741.1 232.2v-6.0M748.2 229.5v-6.0M755.3 226.8v-6.0M762.5 224.1v-6.0M769.6 221.4v-6.0M776.7 218.7v-6.0" stroke="#585249" stroke-width="0.5" fill="none"/>
<polyline points="518.7,316.7 620.0,276.0 776.7,216.7" fill="none" stroke="#8c8274" stroke-width="0.35" stroke-linejoin="round" stroke-linecap="round"/>
<polyline points="518.7,314.7 620.0,274.0 776.7,214.7" fill="none" stroke="#8c8274" stroke-width="0.35" stroke-linejoin="round" stroke-linecap="round"/>
<polyline points="518.7,312.7 620.0,272.0 776.7,212.7" fill="none" stroke="#766e62" stroke-width="0.5" stroke-linejoin="round" stroke-linecap="round"/>
<polyline points="518.7,318.7 620.0,278.0 776.7,218.7" fill="none" stroke="#37332d" stroke-width="0.8" stroke-linejoin="round" stroke-linecap="round"/>
<polygon points="232.0,431.3 518.7,318.7 518.7,312.7 232.0,425.3" fill="#c0c0bd"/>
<path d="M232.0 431.3v-6.0M239.0 428.6v-6.0M246.0 425.8v-6.0M253.0 423.1v-6.0M260.0 420.3v-6.0M267.0 417.6v-6.0M274.0 414.8v-6.0M280.9 412.1v-6.0M287.9 409.3v-6.0M294.9 406.6v-6.0M301.9 403.8v-6.0M308.9 401.1v-6.0M315.9 398.3v-6.0M322.9 395.6v-6.0M329.9 392.9v-6.0M336.9 390.1v-6.0M343.9 387.4v-6.0M350.9 384.6v-6.0M357.9 381.9v-6.0M364.9 379.1v-6.0M371.9 376.4v-6.0M378.8 373.6v-6.0M385.8 370.9v-6.0M392.8 368.1v-6.0M399.8 365.4v-6.0M406.8 362.6v-6.0M413.8 359.9v-6.0M420.8 357.1v-6.0M427.8 354.4v-6.0M434.8 351.7v-6.0M441.8 348.9v-6.0M448.8 346.2v-6.0M455.8 343.4v-6.0M462.8 340.7v-6.0M469.8 337.9v-6.0M476.7 335.2v-6.0M483.7 332.4v-6.0M490.7 329.7v-6.0M497.7 326.9v-6.0M504.7 324.2v-6.0M511.7 321.4v-6.0M518.7 318.7v-6.0" stroke="#70706e" stroke-width="0.5" fill="none"/>
<polyline points="232.0,429.3 518.7,316.7" fill="none" stroke="#a5a5a3" stroke-width="0.35" stroke-linejoin="round" stroke-linecap="round"/>
<polyline points="232.0,427.3 518.7,314.7" fill="none" stroke="#a5a5a3" stroke-width="0.35" stroke-linejoin="round" stroke-linecap="round"/>
<polyline points="232.0,425.3 518.7,312.7" fill="none" stroke="#969694" stroke-width="0.5" stroke-linejoin="round" stroke-linecap="round"/>
<polyline points="232.0,431.3 518.7,318.7" fill="none" stroke="#464644" stroke-width="0.8" stroke-linejoin="round" stroke-linecap="round"/>
<polygon points="29.0,278.7 60.0,306.5 106.7,351.2 156.0,386.5 220.0,426.5 232.0,431.3 232.0,424.8 220.0,420.0 156.0,380.0 106.7,344.7 60.0,300.0 29.0,272.2" fill="#d0d0cd"/>
<path d="M29.0 278.7v-6.5M34.2 283.3v-6.5M39.3 288.0v-6.5M44.5 292.6v-6.5M49.7 297.2v-6.5M54.8 301.9v-6.5M60.0 306.5v-6.5M60.0 306.5v-6.5M65.2 311.5v-6.5M70.4 316.4v-6.5M75.6 321.4v-6.5M80.8 326.4v-6.5M85.9 331.3v-6.5M91.1 336.3v-6.5M96.3 341.3v-6.5M101.5 346.2v-6.5M106.7 351.2v-6.5M106.7 351.2v-6.5M112.2 355.1v-6.5M117.7 359.0v-6.5M123.1 363.0v-6.5M128.6 366.9v-6.5M134.1 370.8v-6.5M139.6 374.7v-6.5M145.0 378.7v-6.5M150.5 382.6v-6.5M156.0 386.5v-6.5M156.0 386.5v-6.5M161.8 390.1v-6.5M167.6 393.8v-6.5M173.5 397.4v-6.5M179.3 401.0v-6.5M185.1 404.7v-6.5M190.9 408.3v-6.5M196.7 412.0v-6.5M202.5 415.6v-6.5M208.4 419.2v-6.5M214.2 422.9v-6.5M220.0 426.5v-6.5M220.0 426.5v-6.5M226.0 428.9v-6.5M232.0 431.3v-6.5" stroke="#828280" stroke-width="0.5" fill="none"/>
<polyline points="29.0,272.2 60.0,300.0 106.7,344.7 156.0,380.0 220.0,420.0 232.0,424.8" fill="none" stroke="#969694" stroke-width="0.5" stroke-linejoin="round" stroke-linecap="round"/>
<polyline points="29.0,278.7 60.0,306.5 106.7,351.2 156.0,386.5 220.0,426.5 232.0,431.3" fill="none" stroke="#464644" stroke-width="0.8" stroke-linejoin="round" stroke-linecap="round"/>
<polygon points="570.0,341.3 816.7,239.3 816.7,233.3 570.0,335.3" fill="#dededc"/>
<path d="M570.0 341.3v-6.0M576.9 338.5v-6.0M583.7 335.6v-6.0M590.6 332.8v-6.0M597.4 330.0v-6.0M604.3 327.1v-6.0M611.1 324.3v-6.0M618.0 321.5v-6.0M624.8 318.6v-6.0M631.7 315.8v-6.0M638.5 313.0v-6.0M645.4 310.1v-6.0M652.2 307.3v-6.0M659.1 304.5v-6.0M665.9 301.6v-6.0M672.8 298.8v-6.0M679.6 296.0v-6.0M686.5 293.1v-6.0M693.4 290.3v-6.0M700.2 287.5v-6.0M707.1 284.6v-6.0M713.9 281.8v-6.0M720.8 279.0v-6.0M727.6 276.1v-6.0M734.5 273.3v-6.0M741.3 270.5v-6.0M748.2 267.6v-6.0M755.0 264.8v-6.0M761.9 262.0v-6.0M768.7 259.1v-6.0M775.6 256.3v-6.0M782.4 253.5v-6.0M789.3 250.6v-6.0M796.1 247.8v-6.0M803.0 245.0v-6.0M809.8 242.1v-6.0M816.7 239.3v-6.0" stroke="#70706e" stroke-width="0.5" fill="none"/>
<polyline points="570.0,339.3 816.7,237.3" fill="none" stroke="#b9b9b7" stroke-width="0.35" stroke-linejoin="round" stroke-linecap="round"/>
<polyline points="570.0,337.3 816.7,235.3" fill="none" stroke="#b9b9b7" stroke-width="0.35" stroke-linejoin="round" stroke-linecap="round"/>
<polyline points="570.0,335.3 816.7,233.3" fill="none" stroke="#969694" stroke-width="0.5" stroke-linejoin="round" stroke-linecap="round"/>
<polyline points="570.0,341.3 816.7,239.3" fill="none" stroke="#464644" stroke-width="0.8" stroke-linejoin="round" stroke-linecap="round"/>
<polygon points="278.7,459.5 570.0,341.3 570.0,335.3 278.7,453.5" fill="#c2c2bf"/>
<path d="M278.7 459.5v-6.0M285.6 456.7v-6.0M292.6 453.9v-6.0M299.5 451.1v-6.0M306.4 448.2v-6.0M313.4 445.4v-6.0M320.3 442.6v-6.0M327.2 439.8v-6.0M334.2 437.0v-6.0M341.1 434.2v-6.0M348.1 431.4v-6.0M355.0 428.5v-6.0M361.9 425.7v-6.0M368.9 422.9v-6.0M375.8 420.1v-6.0M382.7 417.3v-6.0M389.7 414.5v-6.0M396.6 411.7v-6.0M403.5 408.8v-6.0M410.5 406.0v-6.0M417.4 403.2v-6.0M424.4 400.4v-6.0M431.3 397.6v-6.0M438.2 394.8v-6.0M445.2 392.0v-6.0M452.1 389.1v-6.0M459.0 386.3v-6.0M466.0 383.5v-6.0M472.9 380.7v-6.0M479.8 377.9v-6.0M486.8 375.1v-6.0M493.7 372.3v-6.0M500.6 369.4v-6.0M507.6 366.6v-6.0M514.5 363.8v-6.0M521.5 361.0v-6.0M528.4 358.2v-6.0M535.3 355.4v-6.0M542.3 352.6v-6.0M549.2 349.7v-6.0M556.1 346.9v-6.0M563.1 344.1v-6.0M570.0 341.3v-6.0" stroke="#70706e" stroke-width="0.5" fill="none"/>
<polyline points="278.7,457.5 570.0,339.3" fill="none" stroke="#a7a7a4" stroke-width="0.35" stroke-linejoin="round" stroke-linecap="round"/>
<polyline points="278.7,455.5 570.0,337.3" fill="none" stroke="#a7a7a4" stroke-width="0.35" stroke-linejoin="round" stroke-linecap="round"/>
<polyline points="278.7,453.5 570.0,335.3" fill="none" stroke="#969694" stroke-width="0.5" stroke-linejoin="round" stroke-linecap="round"/>
<polyline points="278.7,459.5 570.0,341.3" fill="none" stroke="#464644" stroke-width="0.8" stroke-linejoin="round" stroke-linecap="round"/>
<polyline points="544.0,498.0 639.3,458.3 606.0,441.7" fill="none" stroke="#464644" stroke-width="0.5" stroke-linejoin="round" stroke-linecap="round"/>
<polyline points="370.0,437.0 410.0,457.0" fill="none" stroke="#464644" stroke-width="0.4" stroke-linejoin="round" stroke-linecap="round"/>
<polyline points="378.0,418.0 400.0,430.0" fill="none" stroke="#464644" stroke-width="0.4" stroke-linejoin="round" stroke-linecap="round"/>
<polygon points="383.3,438.7 440.0,416.7 449.3,440.0 475.0,498.0 466.0,496.0 394.0,462.0 412.7,454.7" fill="#807f7b" stroke="#4b4b49" stroke-width="0.5" stroke-linejoin="round"/>
<polygon points="440.0,408.0 508.0,441.5 508.0,452.0 489.3,458.3 437.3,432.0 440.0,430.7" fill="#84837f"/>
<polygon points="445.3,411.7 500.0,438.7 500.0,450.0 445.3,422.7" fill="#686764"/>
<polyline points="445.6,414.3 500.0,441.2" fill="none" stroke="#484846" stroke-width="0.5" stroke-linejoin="round" stroke-linecap="round"/>
<polyline points="445.6,416.5 500.0,443.5" fill="none" stroke="#484846" stroke-width="0.5" stroke-linejoin="round" stroke-linecap="round"/>
<polyline points="445.6,418.8 500.0,445.7" fill="none" stroke="#484846" stroke-width="0.5" stroke-linejoin="round" stroke-linecap="round"/>
<polyline points="445.6,421.1 500.0,448.0" fill="none" stroke="#484846" stroke-width="0.5" stroke-linejoin="round" stroke-linecap="round"/>
<polygon points="468.7,423.3 475.3,426.4 475.3,438.0 468.7,434.9" fill="#969591" stroke="#555552" stroke-width="0.3" stroke-linejoin="round"/>
<polygon points="440.3,408.7 445.3,411.3 445.3,422.9 440.3,420.3" fill="#969591"/>
<polyline points="420.0,431.3 450.7,421.3 450.7,427.3" fill="none" stroke="#5f5f5d" stroke-width="0.4" stroke-linejoin="round" stroke-linecap="round"/>
<polyline points="420.0,431.3 420.0,437.3" fill="none" stroke="#5f5f5d" stroke-width="0.4" stroke-linejoin="round" stroke-linecap="round"/>
<polyline points="420.0,437.3 438.7,431.3" fill="none" stroke="#5f5f5d" stroke-width="0.3" stroke-linejoin="round" stroke-linecap="round"/>
<polygon points="417.5,440.8 475.8,469.2 475.0,497.6 417.0,465.0" fill="#84837f" stroke="#50504e" stroke-width="0.4" stroke-linejoin="round"/>
<polygon points="413.6,464.8 417.0,463.6 475.0,496.0 475.0,498.0 472.4,498.8 413.6,466.2" fill="#767572"/>
<polygon points="435.7,456.7 438.7,458.1 438.7,474.7 435.7,473.2" fill="#969591" stroke="#323230" stroke-width="0.7" stroke-linejoin="round"/>
<polygon points="454.4,466.4 457.3,467.9 457.3,484.0 454.4,482.5" fill="#969591" stroke="#323230" stroke-width="0.7" stroke-linejoin="round"/>
<polygon points="417.5,440.0 475.8,460.4 475.8,469.2 417.5,441.0" fill="#f7f6f2"/>
<polygon points="417.5,440.0 437.5,432.0 482.5,455.6 488.3,457.5 500.0,453.3 500.0,456.0 475.8,460.4" fill="#f7f6f2"/>
<polyline points="417.5,440.0 475.8,460.4" fill="none" stroke="#7d7d7a" stroke-width="0.5" stroke-linejoin="round" stroke-linecap="round"/>
<polyline points="417.5,441.0 475.8,469.2" fill="none" stroke="#323230" stroke-width="0.9" stroke-linejoin="round" stroke-linecap="round"/>
<polyline points="417.5,440.5 437.5,432.0 482.5,455.6" fill="none" stroke="#41413f" stroke-width="0.6" stroke-linejoin="round" stroke-linecap="round"/>
<polyline points="475.8,460.4 475.8,469.2" fill="none" stroke="#6e6e6c" stroke-width="0.4" stroke-linejoin="round" stroke-linecap="round"/>
<polyline points="422.5,440.0 435.8,434.6 481.7,457.0" fill="none" stroke="#787876" stroke-width="0.4" stroke-linejoin="round" stroke-linecap="round"/>
<polyline points="422.5,440.0 476.5,461.6" fill="none" stroke="#969694" stroke-width="0.3" stroke-linejoin="round" stroke-linecap="round"/>
<polygon points="475.8,460.4 484.3,457.0 508.7,455.6 512.7,455.3 512.7,479.3 475.0,497.6" fill="#f7f6f2" stroke="#50504e" stroke-width="0.5" stroke-linejoin="round"/>
<polyline points="475.8,469.2 512.0,457.1" fill="none" stroke="#787876" stroke-width="0.4" stroke-linejoin="round" stroke-linecap="round"/>
<polyline points="477.0,498.6 512.0,481.3" fill="none" stroke="#5a5a58" stroke-width="0.4" stroke-linejoin="round" stroke-linecap="round"/>
<polygon points="508.7,441.3 586.0,412.0 586.0,420.7 564.7,430.0 537.3,437.3 534.7,438.7 532.7,445.3 512.0,450.0 508.7,455.3" fill="#84837f"/>
<polygon points="508.7,441.3 583.3,412.9 583.3,415.3 508.7,444.0" fill="#50504d"/>
<polygon points="508.7,445.3 512.0,444.1 512.0,456.0 508.7,456.9" fill="#f7f6f2"/>
<polygon points="512.0,449.7 532.7,444.9 532.7,450.0 512.0,455.3" fill="#f7f6f2" stroke="#5a5a58" stroke-width="0.4" stroke-linejoin="round"/>
<polygon points="540.7,431.1 550.0,428.0 550.0,439.6 540.7,438.7" fill="#686764"/>
<polygon points="560.7,424.0 578.0,417.3 578.0,428.7 560.7,432.0" fill="#686764"/>
<polygon points="568.0,421.3 570.0,420.7 570.0,430.0 568.0,430.7" fill="#969591"/>
<polygon points="578.0,417.3 582.0,416.0 582.0,427.3 578.0,428.7" fill="#f7f6f2"/>
<polygon points="537.3,437.3 582.0,426.0 606.7,438.7 562.7,444.9 552.7,446.7" fill="#f7f6f2"/>
<polygon points="550.7,430.0 560.0,426.7 560.0,436.4 550.7,440.0" fill="#f7f6f2" stroke="#50504e" stroke-width="0.4" stroke-linejoin="round"/>
<polygon points="582.0,419.3 604.7,430.0 604.7,437.3 582.0,426.3" fill="#f7f6f2" stroke="#50504e" stroke-width="0.4" stroke-linejoin="round"/>
<polyline points="582.0,419.3 585.3,418.3 607.3,428.7 604.7,430.0" fill="none" stroke="#6e6e6c" stroke-width="0.4" stroke-linejoin="round" stroke-linecap="round"/>
<polyline points="564.7,442.0 596.7,435.3" fill="none" stroke="#787876" stroke-width="0.4" stroke-linejoin="round" stroke-linecap="round"/>
<polygon points="513.3,461.3 534.0,450.0 534.0,468.7 523.3,472.7 513.3,471.3" fill="#686764"/>
<polygon points="513.3,461.3 532.7,454.0 532.7,450.0 513.3,456.7" fill="#f7f6f2"/>
<polygon points="514.7,463.3 522.0,460.4 522.0,468.7 514.7,471.1" fill="#969591"/>
<polygon points="513.3,471.6 523.3,472.7 523.3,478.0 539.3,480.7 555.3,484.9 543.3,490.0 544.0,498.0 513.0,484.0" fill="#f7f6f2" stroke="#5a5a58" stroke-width="0.4" stroke-linejoin="round"/>
<polygon points="534.0,444.9 555.3,455.3 555.3,484.9 539.3,480.7 523.3,478.0 523.3,472.7 534.0,468.7" fill="#84837f"/>
<polygon points="523.3,472.7 534.0,468.7 555.3,480.7 555.3,484.9 539.3,480.7 523.3,478.0" fill="#807f7b"/>
<polygon points="536.9,456.0 552.7,462.3 552.7,479.3 536.9,472.7" fill="#767572" stroke="#464644" stroke-width="0.4" stroke-linejoin="round"/>
<polygon points="534.7,438.7 537.3,437.3 552.7,446.7 552.7,453.3 534.7,444.9" fill="#f7f6f2" stroke="#50504e" stroke-width="0.4" stroke-linejoin="round"/>
<polygon points="554.0,448.7 562.7,444.9 565.3,447.3 555.3,450.0" fill="#f7f6f2" stroke="#50504e" stroke-width="0.4" stroke-linejoin="round"/>
<polygon points="555.3,450.0 565.3,447.3 565.3,481.6 555.3,485.3" fill="#f7f6f2" stroke="#464644" stroke-width="0.5" stroke-linejoin="round"/>
<polygon points="565.3,454.0 596.7,446.7 596.7,467.3 565.3,476.7" fill="#f7f6f2"/>
<polygon points="566.0,461.7 582.0,455.3 588.7,460.0 595.3,459.6 595.3,467.3 566.0,470.7" fill="#807f7b"/>
<polygon points="565.3,447.3 606.7,438.4 606.7,464.7 596.7,467.6 596.7,447.6 565.3,454.7" fill="#f7f6f2" stroke="#464644" stroke-width="0.5" stroke-linejoin="round"/>
<polygon points="594.0,450.0 596.7,449.3 596.7,467.6 594.0,466.7" fill="#84837f"/>
<polyline points="565.3,460.0 595.3,452.4" fill="none" stroke="#6e6e6c" stroke-width="0.4" stroke-linejoin="round" stroke-linecap="round"/>
<polygon points="425.8,400.0 507.8,441.2 507.8,442.6 426.6,401.6" fill="#585855"/>
<polygon points="507.8,441.2 595.0,408.2 594.5,409.4 507.8,442.6" fill="#f7f6f2"/>
<polygon points="425.0,397.0 507.8,438.2 507.8,441.2 425.8,400.0" fill="#70706d"/>
<polygon points="507.8,438.2 595.3,405.2 595.0,408.2 507.8,441.2" fill="#c0c0bd"/>
<polyline points="507.8,441.2 595.0,408.2" fill="none" stroke="#787876" stroke-width="0.4" stroke-linejoin="round" stroke-linecap="round"/>
<polygon points="425.0,397.0 512.5,362.0 595.3,405.2 507.8,438.2" fill="#f6f5f1"/>
<polyline points="425.6,397.8 507.8,439.1" fill="none" stroke="#fafaf8" stroke-width="0.8" stroke-linejoin="round" stroke-linecap="round"/>
<polyline points="425.0,397.0 507.8,438.2 595.3,405.2" fill="none" stroke="#4b4b49" stroke-width="0.5" stroke-linejoin="round" stroke-linecap="round"/>
<polyline points="425.0,397.0 512.5,362.0 595.3,405.2" fill="none" stroke="#2d2d2b" stroke-width="0.95" stroke-linejoin="round" stroke-linecap="round"/>
<polyline points="513.2,373.2 507.8,438.2" fill="none" stroke="#787875" stroke-width="0.5" stroke-linejoin="round" stroke-linecap="round"/>
<polyline points="425.0,397.0 507.2,369.5 595.3,405.2" fill="none" stroke="#787875" stroke-width="0.45" stroke-linejoin="round" stroke-linecap="round"/>
<polyline points="507.2,369.5 512.5,362.0" fill="none" stroke="#787875" stroke-width="0.45" stroke-linejoin="round" stroke-linecap="round"/>
<polygon points="438.5,390.4 448.5,386.4 449.5,387.8 439.5,391.8" fill="#e1e0dc" stroke="#5a5a58" stroke-width="0.4" stroke-linejoin="round"/>
<polyline points="819.0,389.3 914.3,349.6 881.0,333.0" fill="none" stroke="#37332d" stroke-width="0.5" stroke-linejoin="round" stroke-linecap="round"/>
<polyline points="645.0,328.3 685.0,348.3" fill="none" stroke="#37332d" stroke-width="0.4" stroke-linejoin="round" stroke-linecap="round"/>
<polyline points="653.0,309.3 675.0,321.3" fill="none" stroke="#37332d" stroke-width="0.4" stroke-linejoin="round" stroke-linecap="round"/>
<polygon points="658.3,330.0 715.0,308.0 724.3,331.3 750.0,389.3 741.0,387.3 669.0,353.3 687.7,346.0" fill="#655d52" stroke="#3b3731" stroke-width="0.5" stroke-linejoin="round"/>
<polygon points="715.0,299.3 783.0,332.8 783.0,343.3 764.3,349.6 712.3,323.3 715.0,322.0" fill="#686054"/>
<polygon points="720.3,303.0 775.0,330.0 775.0,341.3 720.3,314.0" fill="#524c43"/>
<polyline points="720.6,305.6 775.0,332.5" fill="none" stroke="#39352f" stroke-width="0.5" stroke-linejoin="round" stroke-linecap="round"/>
<polyline points="720.6,307.8 775.0,334.8" fill="none" stroke="#39352f" stroke-width="0.5" stroke-linejoin="round" stroke-linecap="round"/>
<polyline points="720.6,310.1 775.0,337.0" fill="none" stroke="#39352f" stroke-width="0.5" stroke-linejoin="round" stroke-linecap="round"/>
<polyline points="720.6,312.4 775.0,339.3" fill="none" stroke="#39352f" stroke-width="0.5" stroke-linejoin="round" stroke-linecap="round"/>
<polygon points="743.7,314.6 750.3,317.7 750.3,329.3 743.7,326.2" fill="#766d60" stroke="#433e37" stroke-width="0.3" stroke-linejoin="round"/>
<polygon points="715.3,300.0 720.3,302.6 720.3,314.2 715.3,311.6" fill="#766d60"/>
<polyline points="695.0,322.6 725.7,312.6 725.7,318.6" fill="none" stroke="#4b463e" stroke-width="0.4" stroke-linejoin="round" stroke-linecap="round"/>
<polyline points="695.0,322.6 695.0,328.6" fill="none" stroke="#4b463e" stroke-width="0.4" stroke-linejoin="round" stroke-linecap="round"/>
<polyline points="695.0,328.6 713.7,322.6" fill="none" stroke="#4b463e" stroke-width="0.3" stroke-linejoin="round" stroke-linecap="round"/>
<polygon points="692.5,332.1 750.8,360.5 750.0,388.9 692.0,356.3" fill="#686054" stroke="#3f3b34" stroke-width="0.4" stroke-linejoin="round"/>
<polygon points="688.6,356.1 692.0,354.9 750.0,387.3 750.0,389.3 747.4,390.1 688.6,357.5" fill="#5d564c"/>
<polygon points="710.7,348.0 713.7,349.4 713.7,366.0 710.7,364.5" fill="#766d60" stroke="#272520" stroke-width="0.7" stroke-linejoin="round"/>
<polygon points="729.4,357.7 732.3,359.2 732.3,375.3 729.4,373.8" fill="#766d60" stroke="#272520" stroke-width="0.7" stroke-linejoin="round"/>
<polygon points="692.5,331.3 750.8,351.7 750.8,360.5 692.5,332.3" fill="#c3b4a1"/>
<polygon points="692.5,331.3 712.5,323.3 757.5,346.9 763.3,348.8 775.0,344.6 775.0,347.3 750.8,351.7" fill="#c3b4a1"/>
<polyline points="692.5,331.3 750.8,351.7" fill="none" stroke="#625c51" stroke-width="0.5" stroke-linejoin="round" stroke-linecap="round"/>
<polyline points="692.5,332.3 750.8,360.5" fill="none" stroke="#272520" stroke-width="0.9" stroke-linejoin="round" stroke-linecap="round"/>
<polyline points="692.5,331.8 712.5,323.3 757.5,346.9" fill="none" stroke="#33302a" stroke-width="0.6" stroke-linejoin="round" stroke-linecap="round"/>
<polyline points="750.8,351.7 750.8,360.5" fill="none" stroke="#575148" stroke-width="0.4" stroke-linejoin="round" stroke-linecap="round"/>
<polyline points="697.5,331.3 710.8,325.9 756.7,348.3" fill="none" stroke="#5f584f" stroke-width="0.4" stroke-linejoin="round" stroke-linecap="round"/>
<polyline points="697.5,331.3 751.5,352.9" fill="none" stroke="#766e62" stroke-width="0.3" stroke-linejoin="round" stroke-linecap="round"/>
<polygon points="750.8,351.7 759.3,348.3 783.7,346.9 787.7,346.6 787.7,370.6 750.0,388.9" fill="#c3b4a1" stroke="#3f3b34" stroke-width="0.5" stroke-linejoin="round"/>
<polyline points="750.8,360.5 787.0,348.4" fill="none" stroke="#5f584f" stroke-width="0.4" stroke-linejoin="round" stroke-linecap="round"/>
<polyline points="752.0,389.9 787.0,372.6" fill="none" stroke="#47423b" stroke-width="0.4" stroke-linejoin="round" stroke-linecap="round"/>
<polygon points="783.7,332.6 861.0,303.3 861.0,312.0 839.7,321.3 812.3,328.6 809.7,330.0 807.7,336.6 787.0,341.3 783.7,346.6" fill="#686054"/>
<polygon points="783.7,332.6 858.3,304.2 858.3,306.6 783.7,335.3" fill="#3f3b33"/>
<polygon points="783.7,336.6 787.0,335.4 787.0,347.3 783.7,348.2" fill="#c3b4a1"/>
<polygon points="787.0,341.0 807.7,336.2 807.7,341.3 787.0,346.6" fill="#c3b4a1" stroke="#47423b" stroke-width="0.4" stroke-linejoin="round"/>
<polygon points="815.7,322.4 825.0,319.3 825.0,330.9 815.7,330.0" fill="#524c43"/>
<polygon points="835.7,315.3 853.0,308.6 853.0,320.0 835.7,323.3" fill="#524c43"/>
<polygon points="843.0,312.6 845.0,312.0 845.0,321.3 843.0,322.0" fill="#766d60"/>
<polygon points="853.0,308.6 857.0,307.3 857.0,318.6 853.0,320.0" fill="#c3b4a1"/>
<polygon points="812.3,328.6 857.0,317.3 881.7,330.0 837.7,336.2 827.7,338.0" fill="#c3b4a1"/>
<polygon points="825.7,321.3 835.0,318.0 835.0,327.7 825.7,331.3" fill="#c3b4a1" stroke="#3f3b34" stroke-width="0.4" stroke-linejoin="round"/>
<polygon points="857.0,310.6 879.7,321.3 879.7,328.6 857.0,317.6" fill="#c3b4a1" stroke="#3f3b34" stroke-width="0.4" stroke-linejoin="round"/>
<polyline points="857.0,310.6 860.3,309.6 882.3,320.0 879.7,321.3" fill="none" stroke="#575148" stroke-width="0.4" stroke-linejoin="round" stroke-linecap="round"/>
<polyline points="839.7,333.3 871.7,326.6" fill="none" stroke="#5f584f" stroke-width="0.4" stroke-linejoin="round" stroke-linecap="round"/>
<polygon points="788.3,352.6 809.0,341.3 809.0,360.0 798.3,364.0 788.3,362.6" fill="#524c43"/>
<polygon points="788.3,352.6 807.7,345.3 807.7,341.3 788.3,348.0" fill="#c3b4a1"/>
<polygon points="789.7,354.6 797.0,351.7 797.0,360.0 789.7,362.4" fill="#766d60"/>
<polygon points="788.3,362.9 798.3,364.0 798.3,369.3 814.3,372.0 830.3,376.2 818.3,381.3 819.0,389.3 788.0,375.3" fill="#c3b4a1" stroke="#47423b" stroke-width="0.4" stroke-linejoin="round"/>
<polygon points="809.0,336.2 830.3,346.6 830.3,376.2 814.3,372.0 798.3,369.3 798.3,364.0 809.0,360.0" fill="#686054"/>
<polygon points="798.3,364.0 809.0,360.0 830.3,372.0 830.3,376.2 814.3,372.0 798.3,369.3" fill="#655d52"/>
<polygon points="811.9,347.3 827.7,353.6 827.7,370.6 811.9,364.0" fill="#5d564c" stroke="#37332d" stroke-width="0.4" stroke-linejoin="round"/>
<polygon points="809.7,330.0 812.3,328.6 827.7,338.0 827.7,344.6 809.7,336.2" fill="#c3b4a1" stroke="#3f3b34" stroke-width="0.4" stroke-linejoin="round"/>
<polygon points="829.0,340.0 837.7,336.2 840.3,338.6 830.3,341.3" fill="#c3b4a1" stroke="#3f3b34" stroke-width="0.4" stroke-linejoin="round"/>
<polygon points="830.3,341.3 840.3,338.6 840.3,372.9 830.3,376.6" fill="#c3b4a1" stroke="#37332d" stroke-width="0.5" stroke-linejoin="round"/>
<polygon points="840.3,345.3 871.7,338.0 871.7,358.6 840.3,368.0" fill="#c3b4a1"/>
<polygon points="841.0,353.0 857.0,346.6 863.7,351.3 870.3,350.9 870.3,358.6 841.0,362.0" fill="#655d52"/>
<polygon points="840.3,338.6 881.7,329.7 881.7,356.0 871.7,358.9 871.7,338.9 840.3,346.0" fill="#c3b4a1" stroke="#37332d" stroke-width="0.5" stroke-linejoin="round"/>
<polygon points="869.0,341.3 871.7,340.6 871.7,358.9 869.0,358.0" fill="#686054"/>
<polyline points="840.3,351.3 870.3,343.7" fill="none" stroke="#575148" stroke-width="0.4" stroke-linejoin="round" stroke-linecap="round"/>
<polygon points="700.8,291.3 782.8,332.6 782.8,333.9 701.6,292.9" fill="#454139"/>
<polygon points="782.8,332.6 870.0,299.5 869.5,300.7 782.8,333.9" fill="#c3b4a1"/>
<polygon points="700.0,288.3 782.8,329.6 782.8,332.6 700.8,291.3" fill="#585249"/>
<polygon points="782.8,329.6 870.3,296.5 870.0,299.5 782.8,332.6" fill="#978d7e"/>
<polyline points="782.8,332.6 870.0,299.5" fill="none" stroke="#5f584f" stroke-width="0.4" stroke-linejoin="round" stroke-linecap="round"/>
<polygon points="700.0,288.3 787.5,253.3 870.3,296.5 782.8,329.6" fill="#c2b4a0"/>
<polyline points="700.6,289.1 782.8,330.4" fill="none" stroke="#c5b7a5" stroke-width="0.8" stroke-linejoin="round" stroke-linecap="round"/>
<polyline points="700.0,288.3 782.8,329.6 870.3,296.5" fill="none" stroke="#3b3731" stroke-width="0.5" stroke-linejoin="round" stroke-linecap="round"/>
<polyline points="700.0,288.3 787.5,253.3 870.3,296.5" fill="none" stroke="#23211d" stroke-width="0.95" stroke-linejoin="round" stroke-linecap="round"/>
<polyline points="788.2,264.6 782.8,329.6" fill="none" stroke="#5f584e" stroke-width="0.5" stroke-linejoin="round" stroke-linecap="round"/>
<polyline points="700.0,288.3 782.2,260.8 870.3,296.5" fill="none" stroke="#5f584e" stroke-width="0.45" stroke-linejoin="round" stroke-linecap="round"/>
<polyline points="782.2,260.8 787.5,253.3" fill="none" stroke="#5f584e" stroke-width="0.45" stroke-linejoin="round" stroke-linecap="round"/>
<polygon points="713.5,281.7 723.5,277.7 724.5,279.1 714.5,283.1" fill="#b1a492" stroke="#47423b" stroke-width="0.4" stroke-linejoin="round"/>
<polygon points="570.0,341.3 793.3,458.0 793.3,451.5 570.0,334.8" fill="#978d7d"/>
<path d="M570.0 341.3v-6.5M576.2 344.5v-6.5M582.4 347.8v-6.5M588.6 351.0v-6.5M594.8 354.3v-6.5M601.0 357.5v-6.5M607.2 360.8v-6.5M613.4 364.0v-6.5M619.6 367.2v-6.5M625.8 370.5v-6.5M632.0 373.7v-6.5M638.2 377.0v-6.5M644.4 380.2v-6.5M650.6 383.4v-6.5M656.8 386.7v-6.5M663.0 389.9v-6.5M669.2 393.2v-6.5M675.4 396.4v-6.5M681.6 399.6v-6.5M687.9 402.9v-6.5M694.1 406.1v-6.5M700.3 409.4v-6.5M706.5 412.6v-6.5M712.7 415.9v-6.5M718.9 419.1v-6.5M725.1 422.3v-6.5M731.3 425.6v-6.5M737.5 428.8v-6.5M743.7 432.1v-6.5M749.9 435.3v-6.5M756.1 438.6v-6.5M762.3 441.8v-6.5M768.5 445.0v-6.5M774.7 448.3v-6.5M780.9 451.5v-6.5M787.1 454.8v-6.5M793.3 458.0v-6.5" stroke="#534d44" stroke-width="0.5" fill="none"/>
<polyline points="570.0,334.8 793.3,451.5" fill="none" stroke="#766e62" stroke-width="0.5" stroke-linejoin="round" stroke-linecap="round"/>
<polyline points="570.0,341.3 793.3,458.0" fill="none" stroke="#37332d" stroke-width="0.8" stroke-linejoin="round" stroke-linecap="round"/>
<polygon points="1197.0,281.5 1032.0,354.7 1032.0,349.2 1197.0,276.0" fill="#b4a796"/>
<path d="M1197.0 281.5v-5.5M1190.1 284.6v-5.5M1183.2 287.6v-5.5M1176.4 290.6v-5.5M1169.5 293.7v-5.5M1162.6 296.8v-5.5M1155.8 299.8v-5.5M1148.9 302.9v-5.5M1142.0 305.9v-5.5M1135.1 308.9v-5.5M1128.2 312.0v-5.5M1121.4 315.1v-5.5M1114.5 318.1v-5.5M1107.6 321.1v-5.5M1100.8 324.2v-5.5M1093.9 327.2v-5.5M1087.0 330.3v-5.5M1080.1 333.4v-5.5M1073.2 336.4v-5.5M1066.4 339.4v-5.5M1059.5 342.5v-5.5M1052.6 345.5v-5.5M1045.8 348.6v-5.5M1038.9 351.6v-5.5M1032.0 354.7v-5.5" stroke="#766e62" stroke-width="0.5" fill="none"/>
<polyline points="1197.0,279.7 1032.0,352.9" fill="none" stroke="#9f9485" stroke-width="0.35" stroke-linejoin="round" stroke-linecap="round"/>
<polyline points="1197.0,277.9 1032.0,351.1" fill="none" stroke="#9f9485" stroke-width="0.35" stroke-linejoin="round" stroke-linecap="round"/>
<polyline points="1197.0,276.0 1032.0,349.2" fill="none" stroke="#766e62" stroke-width="0.5" stroke-linejoin="round" stroke-linecap="round"/>
<polyline points="1197.0,281.5 1032.0,354.7" fill="none" stroke="#37332d" stroke-width="0.8" stroke-linejoin="round" stroke-linecap="round"/>
<polygon points="1032.0,354.7 960.0,388.7 880.0,424.0 793.3,458.0 793.3,451.5 880.0,417.5 960.0,382.2 1032.0,348.2" fill="#ada190"/>
<path d="M1032.0 354.7v-6.5M1025.5 357.8v-6.5M1018.9 360.9v-6.5M1012.4 364.0v-6.5M1005.8 367.1v-6.5M999.3 370.2v-6.5M992.7 373.2v-6.5M986.2 376.3v-6.5M979.6 379.4v-6.5M973.1 382.5v-6.5M966.5 385.6v-6.5M960.0 388.7v-6.5M960.0 388.7v-6.5M953.3 391.6v-6.5M946.7 394.6v-6.5M940.0 397.5v-6.5M933.3 400.5v-6.5M926.7 403.4v-6.5M920.0 406.4v-6.5M913.3 409.3v-6.5M906.7 412.2v-6.5M900.0 415.2v-6.5M893.3 418.1v-6.5M886.7 421.1v-6.5M880.0 424.0v-6.5M880.0 424.0v-6.5M872.8 426.8v-6.5M865.5 429.7v-6.5M858.3 432.5v-6.5M851.1 435.3v-6.5M843.9 438.2v-6.5M836.6 441.0v-6.5M829.4 443.8v-6.5M822.2 446.7v-6.5M815.0 449.5v-6.5M807.8 452.3v-6.5M800.5 455.2v-6.5M793.3 458.0v-6.5" stroke="#585249" stroke-width="0.5" fill="none"/>
<polyline points="1032.0,352.6 960.0,386.6 880.0,421.9 793.3,455.9" fill="none" stroke="#918779" stroke-width="0.35" stroke-linejoin="round" stroke-linecap="round"/>
<polyline points="1032.0,350.4 960.0,384.4 880.0,419.7 793.3,453.7" fill="none" stroke="#918779" stroke-width="0.35" stroke-linejoin="round" stroke-linecap="round"/>
<polyline points="1032.0,348.2 960.0,382.2 880.0,417.5 793.3,451.5" fill="none" stroke="#766e62" stroke-width="0.5" stroke-linejoin="round" stroke-linecap="round"/>
<polyline points="1032.0,354.7 960.0,388.7 880.0,424.0 793.3,458.0" fill="none" stroke="#37332d" stroke-width="0.8" stroke-linejoin="round" stroke-linecap="round"/>
<polygon points="793.3,458.0 504.7,570.7 504.7,564.7 793.3,452.0" fill="#c4c4c1"/>
<path d="M793.3 458.0v-6.0M786.3 460.7v-6.0M779.2 463.5v-6.0M772.2 466.2v-6.0M765.1 469.0v-6.0M758.1 471.7v-6.0M751.1 474.5v-6.0M744.0 477.2v-6.0M737.0 480.0v-6.0M729.9 482.7v-6.0M722.9 485.5v-6.0M715.9 488.2v-6.0M708.8 491.0v-6.0M701.8 493.7v-6.0M694.8 496.5v-6.0M687.7 499.2v-6.0M680.7 502.0v-6.0M673.6 504.7v-6.0M666.6 507.5v-6.0M659.6 510.2v-6.0M652.5 513.0v-6.0M645.5 515.7v-6.0M638.4 518.5v-6.0M631.4 521.2v-6.0M624.4 524.0v-6.0M617.3 526.7v-6.0M610.3 529.5v-6.0M603.2 532.2v-6.0M596.2 535.0v-6.0M589.2 537.7v-6.0M582.1 540.5v-6.0M575.1 543.2v-6.0M568.1 546.0v-6.0M561.0 548.7v-6.0M554.0 551.5v-6.0M546.9 554.2v-6.0M539.9 557.0v-6.0M532.9 559.7v-6.0M525.8 562.5v-6.0M518.8 565.2v-6.0M511.7 568.0v-6.0M504.7 570.7v-6.0" stroke="#70706e" stroke-width="0.5" fill="none"/>
<polyline points="793.3,456.0 504.7,568.7" fill="none" stroke="#a8a8a5" stroke-width="0.35" stroke-linejoin="round" stroke-linecap="round"/>
<polyline points="793.3,454.0 504.7,566.7" fill="none" stroke="#a8a8a5" stroke-width="0.35" stroke-linejoin="round" stroke-linecap="round"/>
<polyline points="793.3,452.0 504.7,564.7" fill="none" stroke="#969694" stroke-width="0.5" stroke-linejoin="round" stroke-linecap="round"/>
<polyline points="793.3,458.0 504.7,570.7" fill="none" stroke="#464644" stroke-width="0.8" stroke-linejoin="round" stroke-linecap="round"/>
<polygon points="278.7,459.5 504.7,570.7 504.7,564.2 278.7,453.0" fill="#cdcdca"/>
<path d="M278.7 459.5v-6.5M285.0 462.6v-6.5M291.3 465.7v-6.5M297.5 468.8v-6.5M303.8 471.9v-6.5M310.1 474.9v-6.5M316.4 478.0v-6.5M322.6 481.1v-6.5M328.9 484.2v-6.5M335.2 487.3v-6.5M341.5 490.4v-6.5M347.8 493.5v-6.5M354.0 496.6v-6.5M360.3 499.7v-6.5M366.6 502.7v-6.5M372.9 505.8v-6.5M379.1 508.9v-6.5M385.4 512.0v-6.5M391.7 515.1v-6.5M398.0 518.2v-6.5M404.3 521.3v-6.5M410.5 524.4v-6.5M416.8 527.5v-6.5M423.1 530.5v-6.5M429.4 533.6v-6.5M435.6 536.7v-6.5M441.9 539.8v-6.5M448.2 542.9v-6.5M454.5 546.0v-6.5M460.8 549.1v-6.5M467.0 552.2v-6.5M473.3 555.3v-6.5M479.6 558.3v-6.5M485.9 561.4v-6.5M492.1 564.5v-6.5M498.4 567.6v-6.5M504.7 570.7v-6.5" stroke="#7d7d7b" stroke-width="0.5" fill="none"/>
<polyline points="278.7,453.0 504.7,564.2" fill="none" stroke="#969694" stroke-width="0.5" stroke-linejoin="round" stroke-linecap="round"/>
<polyline points="278.7,459.5 504.7,570.7" fill="none" stroke="#464644" stroke-width="0.8" stroke-linejoin="round" stroke-linecap="round"/>
<polygon points="1196.0,282.5 1032.0,355.2 1032.6,357.2 1196.6,284.5" fill="#dededc"/>
<polyline points="1196.6,284.5 1032.6,357.2" fill="none" stroke="#696967" stroke-width="0.5" stroke-linejoin="round" stroke-linecap="round"/>
<polygon points="1032.0,355.2 960.0,389.2 880.0,424.5 793.3,458.5 793.9,460.8 880.6,426.8 960.6,391.5 1032.6,357.5" fill="#dededc"/>
<polyline points="1032.6,357.5 960.6,391.5 880.6,426.8 793.9,460.8" fill="none" stroke="#696967" stroke-width="0.5" stroke-linejoin="round" stroke-linecap="round"/>
<polygon points="793.3,458.8 504.7,571.2 505.3,573.2 793.9,460.8" fill="#dededc"/>
<polyline points="793.9,460.8 505.3,573.2" fill="none" stroke="#696967" stroke-width="0.5" stroke-linejoin="round" stroke-linecap="round"/>
<g opacity="0.999">
<text transform="translate(62.3 294.0) scale(0.880 1)" font-size="16.0" letter-spacing="0.30" stroke="#0c0c0c" stroke-width="0.50">61.</text>
<text transform="translate(316.3 198.5) scale(0.880 1)" font-size="16.0" letter-spacing="1.20" stroke="#0c0c0c" stroke-width="0.50">63.</text>
<text transform="translate(589.3 102.5) scale(0.880 1)" font-size="16.0" letter-spacing="1.20" stroke="#0c0c0c" stroke-width="0.50">65.</text>
<text transform="translate(787.0 440.7) scale(0.880 1)" font-size="16.0" letter-spacing="1.20" stroke="#0c0c0c" stroke-width="0.50">67.</text>
<text transform="translate(498.7 554.0) scale(0.880 1)" font-size="16.0" letter-spacing="1.20" stroke="#0c0c0c" stroke-width="0.50">69.</text>
<text transform="translate(504.0 171.5) scale(0.820 1)" font-size="16.0" letter-spacing="1.20" stroke="#0c0c0c" stroke-width="0.40">Sprzedany</text>
<text transform="translate(741.0 79.5) scale(0.820 1)" font-size="16.0" letter-spacing="1.20" stroke="#0c0c0c" stroke-width="0.40">Sprzedany</text>
<text transform="translate(752.0 293.5) scale(0.820 1)" font-size="16.0" letter-spacing="1.20" stroke="#0c0c0c" stroke-width="0.40">Sprzedany</text>
</g>
</svg>
</body></html>
